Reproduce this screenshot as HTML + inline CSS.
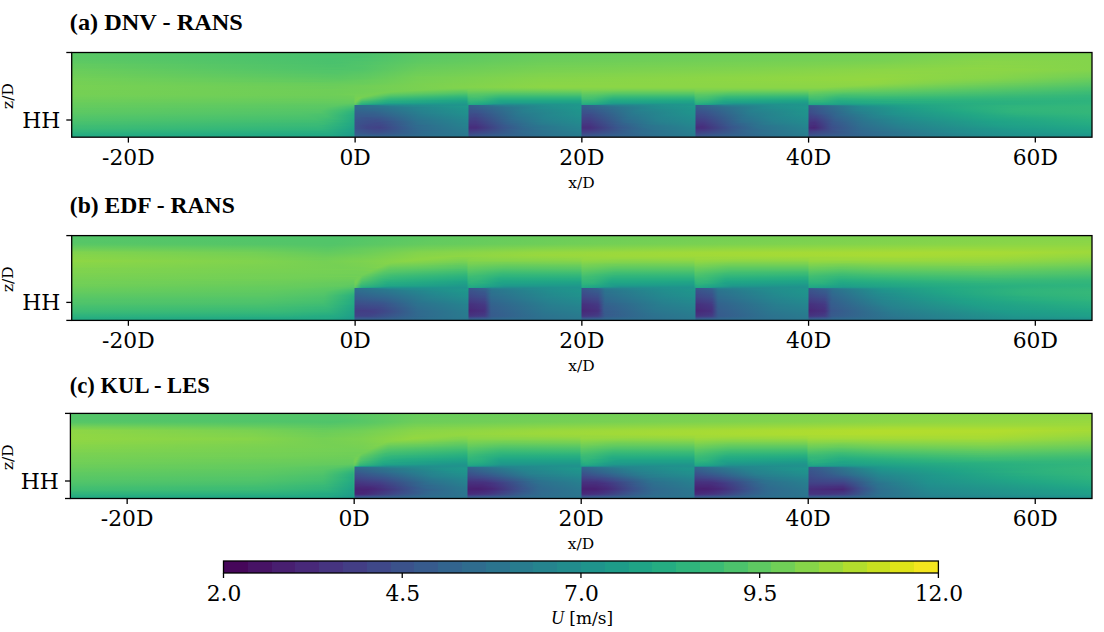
<!DOCTYPE html>
<html><head><meta charset="utf-8"><title>Wake flow fields</title>
<style>
html,body{margin:0;padding:0;background:#fff}
body{width:1104px;height:632px;position:relative;overflow:hidden}
.fld{position:absolute;overflow:hidden}
.fld i{position:absolute;left:0;width:100%;height:1px;display:block}
svg{position:absolute;left:0;top:0}
.cb{position:absolute}
</style></head><body>

<div class="fld" style="left:72px;top:52px;width:1020px;height:85px"><i style="top:0px;background:linear-gradient(90deg,#58c765,#48c16e 237px,#48c16e 284px,#5ac864 357px,#67cc5c 488px,#73d056 823px,#7ad151 928px,#7ad151 1019px)"></i><i style="top:1px;background:linear-gradient(90deg,#58c765,#4ac16d 220px,#48c16e 262px,#4cc26c 297px,#5ac864 354px,#67cc5c 480px,#73d056 812px,#7cd250 938px,#7cd250 1019px)"></i><i style="top:2px;background:linear-gradient(90deg,#5ac864,#48c16e 259px,#4cc26c 296px,#5ac864 350px,#67cc5c 473px,#75d054 829px,#7fd34e 909px,#7cd250 1019px)"></i><i style="top:3px;background:linear-gradient(90deg,#5ac864,#48c16e 247px,#4cc26c 295px,#5ac864 348px,#67cc5c 467px,#75d054 819px,#7fd34e 923px,#7fd34e 1019px)"></i><i style="top:4px;background:linear-gradient(90deg,#5ac864,#4ac16d 229px,#4ac16d 286px,#5cc863 353px,#69cd5b 481px,#77d153 833px,#81d34d 925px,#7fd34e 1019px)"></i><i style="top:5px;background:linear-gradient(90deg,#5ac864,#4ac16d 232px,#4ac16d 285px,#5cc863 351px,#69cd5b 475px,#77d153 825px,#81d34d 911px,#81d34d 1019px)"></i><i style="top:6px;background:linear-gradient(90deg,#5cc863,#48c16e 264px,#54c568 317px,#5cc863 350px,#69cd5b 469px,#77d153 817px,#84d44b 922px,#81d34d 1019px)"></i><i style="top:7px;background:linear-gradient(90deg,#5cc863,#48c16e 260px,#50c46a 303px,#5ec962 354px,#6ccd5a 483px,#77d153 810px,#84d44b 910px,#81d34d 1019px)"></i><i style="top:8px;background:linear-gradient(90deg,#5cc863,#4ac16d 257px,#4cc26c 289px,#5ec962 351px,#6ccd5a 475px,#77d153 804px,#86d549 913px,#84d44b 1019px)"></i><i style="top:9px;background:linear-gradient(90deg,#5ec962,#4ac16d 260px,#50c46a 300px,#5ec962 348px,#6ccd5a 465px,#7ad151 811px,#89d548 912px,#84d44b 1019px)"></i><i style="top:10px;background:linear-gradient(90deg,#5ec962,#4ac16d 269px,#60ca60 352px,#6ece58 472px,#7cd250 815px,#89d548 924px,#84d44b 1019px)"></i><i style="top:11px;background:linear-gradient(90deg,#60ca60,#4ac16d 261px,#50c46a 295px,#60ca60 346px,#70cf57 475px,#7cd250 797px,#89d548 919px,#84d44b 1019px)"></i><i style="top:12px;background:linear-gradient(90deg,#63cb5f,#4cc26c 257px,#50c46a 293px,#63cb5f 347px,#70cf57 473px,#7cd250 758px,#89d548 916px,#84d44b 1019px)"></i><i style="top:13px;background:linear-gradient(90deg,#63cb5f,#4cc26c 269px,#5ac864 318px,#65cb5e 351px,#73d056 478px,#7cd250 722px,#8bd646 918px,#84d44b 1019px)"></i><i style="top:14px;background:linear-gradient(90deg,#65cb5e,#4cc26c 263px,#52c569 294px,#65cb5e 346px,#73d056 465px,#7cd250 690px,#8bd646 927px,#84d44b 1019px)"></i><i style="top:15px;background:linear-gradient(90deg,#65cb5e,#50c46a 227px,#4ec36b 263px,#50c46a 287px,#67cc5c 348px,#75d054 474px,#81d34d 738px,#8bd646 900px,#84d44b 1019px)"></i><i style="top:16px;background:linear-gradient(90deg,#67cc5c,#50c46a 233px,#50c46a 286px,#67cc5c 344px,#77d153 477px,#7fd34e 675px,#89d548 826px,#8ed645 912px,#84d44b 1019px)"></i><i style="top:17px;background:linear-gradient(90deg,#69cd5b,#4ec36b 265px,#54c568 294px,#69cd5b 346px,#77d153 469px,#81d34d 685px,#8bd646 819px,#8bd646 948px,#84d44b 1019px)"></i><i style="top:18px;background:linear-gradient(90deg,#69cd5b,#52c569 234px,#52c569 285px,#6ccd5a 351px,#7ad151 477px,#81d34d 666px,#8bd646 806px,#8bd646 934px,#81d34d 1019px)"></i><i style="top:19px;background:linear-gradient(90deg,#6ccd5a,#52c569 256px,#56c667 291px,#6ccd5a 345px,#7ad151 465px,#84d44b 681px,#8ed645 835px,#89d548 945px,#7fd34e 1019px)"></i><i style="top:20px;background:linear-gradient(90deg,#6ccd5a,#52c569 258px,#58c765 293px,#6ece58 347px,#7cd250 474px,#84d44b 661px,#8ed645 819px,#89d548 934px,#7cd250 1019px)"></i><i style="top:21px;background:linear-gradient(90deg,#6ccd5a,#54c568 264px,#5ac864 294px,#6ece58 344px,#7fd34e 478px,#86d549 678px,#8ed645 799px,#89d548 926px,#7ad151 1019px)"></i><i style="top:22px;background:linear-gradient(90deg,#6ece58,#56c667 266px,#5ec962 301px,#70cf57 345px,#7fd34e 467px,#8bd646 734px,#90d743 814px,#89d548 920px,#77d153 1019px)"></i><i style="top:23px;background:linear-gradient(90deg,#6ece58,#5ac864 227px,#58c765 267px,#5ec962 297px,#70cf57 342px,#81d34d 469px,#8bd646 713px,#90d743 818px,#86d549 928px,#75d054 1019px)"></i><i style="top:24px;background:linear-gradient(90deg,#70cf57,#58c765 257px,#5ec962 293px,#73d056 345px,#81d34d 464px,#90d743 775px,#90d743 813px,#86d549 922px,#73d056 1019px)"></i><i style="top:25px;background:linear-gradient(90deg,#70cf57,#60ca60 195px,#5ac864 264px,#60ca60 295px,#75d054 346px,#84d44b 471px,#90d743 755px,#90d743 813px,#86d549 918px,#70cf57 1019px)"></i><i style="top:26px;background:linear-gradient(90deg,#73d056,#5cc863 267px,#60ca60 291px,#75d054 344px,#84d44b 462px,#90d743 751px,#93d741 810px,#84d44b 921px,#6ccd5a 1019px)"></i><i style="top:27px;background:linear-gradient(90deg,#73d056,#5ec962 267px,#63cb5f 292px,#75d054 343px,#86d549 470px,#90d743 762px,#93d741 803px,#81d34d 920px,#69cd5b 1019px)"></i><i style="top:28px;background:linear-gradient(90deg,#73d056,#60ca60 267px,#70cf57 326px,#77d153 350px,#86d549 467px,#93d741 797px,#7fd34e 916px,#6ccd5a 992px,#65cb5e 1019px)"></i><i style="top:29px;background:linear-gradient(90deg,#75d054,#60ca60 249px,#69cd5b 301px,#77d153 345px,#86d549 462px,#90d743 807px,#7ad151 921px,#63cb5f 1016px,#60ca60 1019px)"></i><i style="top:30px;background:linear-gradient(90deg,#75d054,#65cb5e 261px,#69cd5b 296px,#77d153 344px,#89d548 474px,#90d743 802px,#73d056 934px,#63cb5f 1000px,#5ec962 1019px)"></i><i style="top:31px;background:linear-gradient(90deg,#75d054,#67cc5c 259px,#69cd5b 290px,#7ad151 351px,#89d548 471px,#8ed645 807px,#7ad151 883px,#5ac864 1019px)"></i><i style="top:32px;background:linear-gradient(90deg,#75d054,#69cd5b 257px,#6ccd5a 291px,#7ad151 350px,#89d548 465px,#8ed645 794px,#7fd34e 846px,#73d056 898px,#58c765 1017px,#56c667 1019px)"></i><i style="top:33px;background:linear-gradient(90deg,#77d153,#69cd5b 259px,#7cd250 360px,#8bd646 475px,#8bd646 786px,#75d054 866px,#54c568 1019px)"></i><i style="top:34px;background:linear-gradient(90deg,#77d153,#6ccd5a 264px,#81d34d 391px,#8bd646 473px,#8bd646 763px,#6ece58 877px,#50c46a 1019px)"></i><i style="top:35px;background:linear-gradient(90deg,#77d153,#6ccd5a 260px,#7fd34e 383px,#89d548 470px,#89d548 751px,#81d34d 776px,#67cc5c 885px,#4cc26c 1019px)"></i><i style="top:36px;background:linear-gradient(90deg,#77d153,#6ccd5a 256px,#7cd250 369px,#7cd250 403px,#84d44b 483px,#84d44b 747px,#7ad151 775px,#63cb5f 880px,#48c16e 1019px)"></i><i style="top:37px;background:linear-gradient(90deg,#77d153,#6ece58 231px,#70cf57 293px,#7ad151 353px,#73d056 395px,#77d153 399px,#7ad151 456px,#7cd250 509px,#81d34d 511px,#7cd250 558px,#7cd250 622px,#81d34d 624px,#7cd250 684px,#7cd250 749px,#73d056 773px,#5cc863 888px,#46c06f 1019px)"></i><i style="top:38px;background:linear-gradient(90deg,#75d054,#6ece58 267px,#77d153 341px,#69cd5b 390px,#6ccd5a 395px,#73d056 396px,#70cf57 444px,#73d056 509px,#7ad151 510px,#73d056 560px,#75d054 622px,#7ad151 624px,#73d056 676px,#73d056 736px,#7ad151 737px,#6ccd5a 770px,#56c667 896px,#42be71 1019px)"></i><i style="top:39px;background:linear-gradient(90deg,#75d054,#6ece58 266px,#75d054 323px,#60ca60 389px,#63cb5f 395px,#6ccd5a 396px,#67cc5c 442px,#69cd5b 509px,#73d056 510px,#6ece58 531px,#69cd5b 556px,#6ccd5a 622px,#75d054 624px,#69cd5b 664px,#69cd5b 736px,#70cf57 737px,#67cc5c 760px,#63cb5f 784px,#52c569 892px,#3fbc73 1019px)"></i><i style="top:40px;background:linear-gradient(90deg,#75d054,#6ece58 264px,#75d054 312px,#6ece58 322px,#58c765 391px,#5ac864 395px,#65cb5e 396px,#63cb5f 413px,#5ec962 430px,#60ca60 509px,#6ccd5a 510px,#67cc5c 528px,#60ca60 547px,#60ca60 622px,#6ccd5a 623px,#69cd5b 637px,#60ca60 658px,#5ec962 736px,#69cd5b 737px,#60ca60 757px,#5ac864 777px,#56c667 824px,#3bbb75 1019px)"></i><i style="top:41px;background:linear-gradient(90deg,#75d054,#6ece58 262px,#75d054 306px,#67cc5c 320px,#50c46a 389px,#50c46a 395px,#5ec962 396px,#5ac864 415px,#54c568 435px,#56c667 509px,#65cb5e 510px,#63cb5f 523px,#58c765 541px,#58c765 622px,#65cb5e 623px,#63cb5f 636px,#56c667 657px,#54c568 736px,#63cb5f 737px,#52c569 773px,#52c569 811px,#3aba76 1019px)"></i><i style="top:42px;background:linear-gradient(90deg,#75d054,#6ece58 258px,#73d056 284px,#75d054 302px,#5ec962 319px,#46c06f 391px,#46c06f 395px,#56c667 396px,#56c667 410px,#4cc26c 428px,#4ec36b 509px,#5ec962 510px,#5ac864 525px,#4ec36b 543px,#4ec36b 622px,#5cc863 623px,#5cc863 635px,#4ec36b 655px,#4ac16d 736px,#5cc863 737px,#52c569 757px,#4ac16d 770px,#4cc26c 808px,#37b878 1019px)"></i><i style="top:43px;background:linear-gradient(90deg,#73d056,#6ece58 266px,#70cf57 282px,#75d054 284px,#75d054 298px,#56c667 318px,#3dbc74 387px,#3dbc74 395px,#50c46a 396px,#50c46a 410px,#42be71 428px,#44bf70 509px,#58c765 510px,#54c568 524px,#44bf70 542px,#44bf70 622px,#56c667 623px,#56c667 634px,#44bf70 654px,#40bd72 736px,#54c568 737px,#52c569 749px,#42be71 770px,#46c06f 805px,#3fbc73 898px,#34b679 1019px)"></i><i style="top:44px;background:linear-gradient(90deg,#73d056,#6ccd5a 255px,#6ece58 282px,#75d054 283px,#75d054 294px,#4cc26c 317px,#35b779 386px,#35b779 395px,#48c16e 396px,#4ec36b 402px,#3aba76 428px,#3aba76 509px,#52c569 510px,#4ec36b 523px,#3bbb75 542px,#3aba76 622px,#4ec36b 623px,#52c569 627px,#4ac16d 639px,#3aba76 655px,#37b878 736px,#4ec36b 737px,#4ac16d 751px,#3dbc74 765px,#3dbc74 825px,#32b67a 1019px)"></i><i style="top:45px;background:linear-gradient(90deg,#70cf57,#6ccd5a 273px,#6ece58 282px,#75d054 283px,#7ad151 288px,#6ece58 293px,#42be71 317px,#2eb37c 387px,#2eb37c 395px,#40bd72 396px,#46c06f 398px,#46c06f 407px,#32b67a 428px,#32b67a 509px,#4cc26c 510px,#48c16e 523px,#34b679 541px,#32b67a 622px,#46c06f 623px,#4cc26c 625px,#48c16e 636px,#34b679 652px,#2fb47c 736px,#48c16e 737px,#46c06f 749px,#37b878 765px,#38b977 788px,#34b679 967px,#31b57b 1019px)"></i><i style="top:46px;background:linear-gradient(90deg,#70cf57,#69cd5b 236px,#6ccd5a 282px,#75d054 283px,#7ad151 287px,#67cc5c 291px,#52c569 303px,#38b977 318px,#28ae80 390px,#28ae80 395px,#3aba76 396px,#40bd72 398px,#3fbc73 409px,#2cb17e 426px,#2cb17e 509px,#46c06f 510px,#46c06f 519px,#2db27d 541px,#2cb17e 622px,#3fbc73 623px,#46c06f 624px,#42be71 636px,#2db27d 653px,#29af7f 736px,#42be71 737px,#42be71 747px,#2fb47c 768px,#34b679 808px,#2fb47c 1019px)"></i><i style="top:47px;background:linear-gradient(90deg,#6ece58,#67cc5c 250px,#69cd5b 282px,#75d054 283px,#7ad151 286px,#5ec962 290px,#44bf70 305px,#31b57b 317px,#24aa83 389px,#24aa83 395px,#35b779 396px,#3bbb75 398px,#3aba76 409px,#26ad81 427px,#26ad81 509px,#40bd72 510px,#3fbc73 521px,#27ad81 541px,#26ad81 622px,#3aba76 623px,#40bd72 625px,#3dbc74 635px,#26ad81 655px,#24aa83 736px,#3bbb75 737px,#3dbc74 747px,#2cb17e 766px,#2fb47c 953px,#2fb47c 1019px)"></i><i style="top:48px;background:linear-gradient(90deg,#6ccd5a,#67cc5c 282px,#75d054 283px,#77d153 285px,#6ccd5a 287px,#56c667 289px,#2db27d 314px,#22a785 369px,#21a585 395px,#2fb47c 396px,#37b878 397px,#34b679 410px,#22a884 428px,#22a884 509px,#3aba76 510px,#37b878 523px,#24aa83 540px,#22a884 622px,#34b679 623px,#3bbb75 624px,#37b878 636px,#25ab82 651px,#21a685 706px,#21a585 736px,#37b878 737px,#34b679 752px,#27ad81 766px,#2cb17e 826px,#2eb37c 1019px)"></i><i style="top:49px;background:linear-gradient(90deg,#6ccd5a,#65cb5e 254px,#65cb5e 282px,#75d054 283px,#70cf57 285px,#44bf70 290px,#25ac82 318px,#1fa187 395px,#2cb17e 396px,#32b67a 398px,#2cb17e 412px,#20a486 429px,#20a486 509px,#35b779 510px,#34b679 521px,#21a685 540px,#20a486 622px,#2fb47c 623px,#37b878 625px,#2fb47c 637px,#21a585 653px,#1fa187 736px,#31b57b 737px,#31b57b 750px,#24aa83 766px,#29af7f 873px,#2eb37c 1019px)"></i><i style="top:50px;background:linear-gradient(90deg,#69cd5b,#63cb5f 280px,#63cb5f 282px,#73d056 283px,#5cc863 286px,#3dbc74 289px,#24aa83 313px,#1f9e89 385px,#1f9e89 395px,#28ae80 396px,#2eb37c 399px,#26ad81 413px,#1fa088 430px,#1fa188 509px,#31b57b 510px,#2cb17e 523px,#1fa287 539px,#1fa188 622px,#2ab07f 623px,#31b57b 624px,#2cb17e 636px,#1fa187 652px,#1e9d89 736px,#2db27d 737px,#2ab07f 751px,#22a785 770px,#26ad81 811px,#2ab07f 911px,#2fb47c 1019px)"></i><i style="top:51px;background:linear-gradient(90deg,#67cc5c,#60ca60 275px,#5ec962 282px,#6ccd5a 283px,#32b67a 289px,#1fa188 317px,#1e9b8a 364px,#1f9a8a 395px,#23a983 396px,#29af7f 399px,#22a785 414px,#1f978b 435px,#1e9c89 509px,#2cb17e 510px,#25ab82 526px,#1f9a8a 542px,#1e9c89 622px,#25ab82 623px,#2cb17e 624px,#22a785 642px,#1f978b 662px,#1f998a 736px,#28ae80 737px,#24aa83 755px,#20a386 771px,#22a785 803px,#2eb37c 989px,#2fb47c 1019px)"></i><i style="top:52px;background:linear-gradient(90deg,#67cc5c,#5ec962 268px,#56c667 282px,#63cb5f 283px,#2fb47c 288px,#26ad81 291px,#20a386 300px,#20938c 314px,#1f968b 395px,#24aa83 397px,#20a486 410px,#218f8d 422px,#228c8d 437px,#1f988b 509px,#25ac82 510px,#21a685 523px,#21908d 535px,#228c8d 551px,#1f988b 622px,#25ac82 624px,#20a486 637px,#218f8d 649px,#228c8d 667px,#1f968b 736px,#23a983 737px,#21a585 753px,#1e9c89 774px,#28ae80 899px,#2fb47c 986px,#31b57b 1019px)"></i><i style="top:53px;background:linear-gradient(90deg,#65cb5e,#5cc863 264px,#50c46a 282px,#2f6c8e 283px,#2b748e 299px,#25858e 316px,#1f948c 385px,#1f968b 395px,#1f9e89 396px,#365d8d 397px,#30698e 411px,#297b8e 425px,#21918c 477px,#1f978b 509px,#365d8d 510px,#31688e 524px,#297a8e 536px,#21918c 590px,#1f978b 622px,#1f9e89 623px,#365d8d 624px,#31688e 637px,#287c8e 652px,#21918c 706px,#1f968b 736px,#34608d 737px,#20928c 787px,#1fa187 830px,#2eb37c 934px,#32b67a 1019px)"></i><i style="top:54px;background:linear-gradient(90deg,#65cb5e,#5ac864 260px,#48c16e 282px,#2f6b8e 283px,#2a768e 311px,#25858e 334px,#1f9a8a 396px,#365c8d 397px,#287c8e 437px,#21918c 482px,#1f978b 509px,#365c8d 510px,#297a8e 548px,#21918c 595px,#1f9a8a 623px,#365c8d 624px,#29798e 660px,#21908d 706px,#1f978b 736px,#39568c 737px,#218e8d 793px,#1fa088 832px,#2fb47c 936px,#34b679 1019px)"></i><i style="top:55px;background:linear-gradient(90deg,#63cb5f,#5ac864 253px,#4cc26c 272px,#42be71 282px,#30698e 283px,#2a778e 317px,#20928c 377px,#1f988b 396px,#375a8c 397px,#228b8d 468px,#1f988b 509px,#375a8c 510px,#228b8d 581px,#1f988b 623px,#375a8c 624px,#228b8d 694px,#1f988b 736px,#3a548c 737px,#33628d 751px,#23888e 789px,#1f9f88 835px,#2ab07f 909px,#31b57b 952px,#34b679 1019px)"></i><i style="top:56px;background:linear-gradient(90deg,#60ca60,#58c765 252px,#48c16e 271px,#3bbb75 282px,#31688e 283px,#2e6e8e 306px,#24878e 352px,#1f968b 396px,#38588c 397px,#23898e 465px,#1f978b 509px,#38588c 510px,#2d708e 542px,#228c8d 586px,#1f978b 623px,#38588c 624px,#23898e 692px,#1f978b 736px,#3b528b 737px,#25848e 785px,#1e9d89 835px,#2ab07f 910px,#31b57b 943px,#34b679 1019px)"></i><i style="top:57px;background:linear-gradient(90deg,#60ca60,#56c667 252px,#44bf70 270px,#37b878 282px,#31668e 283px,#2e6d8e 308px,#25858e 351px,#1f958b 396px,#39568c 397px,#365d8d 409px,#26828e 455px,#1f968b 509px,#39568c 510px,#375b8d 520px,#26828e 569px,#1f968b 622px,#1f968b 623px,#39568c 624px,#365d8d 636px,#26828e 682px,#1f968b 736px,#3b518b 737px,#355f8d 751px,#25838e 786px,#1f998a 828px,#24aa83 885px,#31b57b 942px,#34b679 1019px)"></i><i style="top:58px;background:linear-gradient(90deg,#5ec962,#56c667 248px,#3fbc73 271px,#32b67a 282px,#32648e 283px,#2f6b8e 308px,#26828e 348px,#20938c 395px,#20938c 396px,#3a548c 397px,#39568c 405px,#277f8e 451px,#1f948c 506px,#1f958b 509px,#3a548c 510px,#39568c 518px,#26828e 569px,#1f958b 623px,#3a548c 624px,#38598c 634px,#26828e 682px,#1f958b 736px,#3c4f8a 737px,#375b8d 749px,#26828e 785px,#1f998a 832px,#24aa83 890px,#31b57b 948px,#34b679 1019px)"></i><i style="top:59px;background:linear-gradient(90deg,#5ec962,#54c568 248px,#3dbc74 270px,#2db27d 282px,#33638d 283px,#32658e 302px,#26828e 351px,#20928c 396px,#3b528b 397px,#39568c 407px,#27808e 454px,#1f948c 509px,#3b528b 510px,#39568c 520px,#287d8e 563px,#20928c 614px,#1f948c 623px,#3b528b 624px,#39568c 634px,#277f8e 679px,#1f948c 736px,#3d4d8a 737px,#34608d 754px,#26828e 789px,#1f968b 827px,#23a983 891px,#2fb47c 941px,#34b679 1019px)"></i><i style="top:60px;background:linear-gradient(90deg,#5cc863,#52c569 249px,#3aba76 270px,#2cb17e 282px,#34618d 283px,#33638d 303px,#26828e 353px,#20928c 396px,#3c508b 397px,#3a548c 407px,#287d8e 451px,#20928c 506px,#20938c 509px,#3c508b 510px,#3a538b 520px,#287c8e 563px,#20928c 616px,#20938c 623px,#3c508b 624px,#3a548c 634px,#277e8e 679px,#20938c 736px,#3e4c8a 737px,#38588c 749px,#29798e 779px,#20938c 822px,#21a685 886px,#2eb37c 941px,#34b679 1019px)"></i><i style="top:61px;background:linear-gradient(90deg,#5ac864,#52c569 227px,#4ec36b 251px,#37b878 271px,#29af7f 282px,#355f8d 283px,#34618d 304px,#27808e 351px,#21908d 396px,#3c4f8a 397px,#3d4e8a 404px,#297a8e 448px,#20928c 505px,#20928c 509px,#3c4f8a 510px,#3c508b 519px,#297b8e 563px,#20928c 618px,#20928c 623px,#3d4e8a 624px,#3b528b 634px,#297a8e 675px,#21918c 727px,#20928c 736px,#3e4989 737px,#365d8d 754px,#26818e 791px,#20928c 823px,#21a685 891px,#2db27d 945px,#32b67a 1019px)"></i><i style="top:62px;background:linear-gradient(90deg,#58c765,#50c46a 230px,#4ac16d 254px,#31b57b 274px,#28ae80 282px,#355e8d 283px,#355e8d 303px,#277e8e 351px,#218f8d 396px,#3d4d8a 397px,#3e4a89 403px,#2a768e 444px,#238a8d 484px,#20928c 509px,#3d4d8a 510px,#3e4a89 516px,#2a778e 559px,#238a8d 597px,#20928c 623px,#3e4c8a 624px,#3d4d8a 631px,#297b8e 678px,#21918c 732px,#20928c 736px,#3f4788 737px,#3a538b 749px,#2e6d8e 769px,#218f8d 816px,#21a685 896px,#2cb17e 947px,#31b57b 1019px)"></i><i style="top:63px;background:linear-gradient(90deg,#56c667,#4ec36b 233px,#48c16e 254px,#29af7f 279px,#27ad81 282px,#365d8d 283px,#375b8d 295px,#34618d 311px,#287c8e 350px,#218e8d 396px,#3e4a89 397px,#3e4a89 404px,#2a768e 446px,#24868e 476px,#21918c 509px,#3e4a89 510px,#3e4a89 518px,#2b758e 558px,#24878e 592px,#21918c 623px,#3e4989 624px,#3e4c8a 632px,#29798e 677px,#238a8d 713px,#21918c 736px,#404588 737px,#3e4a89 745px,#31678e 765px,#26828e 799px,#20928c 831px,#21a685 901px,#29af7f 948px,#2fb47c 1019px)"></i><i style="top:64px;background:linear-gradient(90deg,#54c568,#4cc26c 236px,#46c06f 255px,#26ad81 282px,#375b8d 283px,#375b8d 307px,#297a8e 349px,#228c8d 396px,#3f4889 397px,#3f4889 404px,#2b748e 445px,#25848e 473px,#21908d 509px,#3f4889 510px,#3f4889 518px,#2c738e 557px,#25848e 586px,#21908d 623px,#3f4788 624px,#3e4a89 633px,#2b748e 672px,#25838e 697px,#21908d 736px,#414287 737px,#404688 744px,#32648e 764px,#27808e 797px,#21918c 832px,#21a685 906px,#27ad81 942px,#2eb37c 1019px)"></i><i style="top:65px;background:linear-gradient(90deg,#52c569,#4ac16d 239px,#44bf70 255px,#25ac82 282px,#375a8c 283px,#39558c 295px,#375a8c 310px,#2a778e 346px,#228b8d 396px,#404688 397px,#414487 403px,#2c718e 443px,#25838e 473px,#218f8d 509px,#404688 510px,#414487 516px,#2c728e 558px,#26828e 584px,#218f8d 623px,#404588 624px,#3e4989 634px,#2c738e 672px,#26828e 697px,#218f8d 736px,#424086 737px,#414487 744px,#33638d 764px,#26828e 803px,#20928c 843px,#22a884 918px,#2db27d 1019px)"></i><i style="top:66px;background:linear-gradient(90deg,#50c46a,#48c16e 242px,#3dbc74 261px,#25ab82 282px,#38598c 283px,#3a538b 295px,#39568c 309px,#2b758e 345px,#238a8d 396px,#414487 397px,#424186 403px,#2e6e8e 440px,#26828e 472px,#218e8d 509px,#414487 510px,#414287 517px,#2d708e 555px,#26828e 586px,#218e8d 623px,#414287 624px,#404588 632px,#2c718e 671px,#26828e 699px,#218e8d 736px,#433e85 737px,#424086 744px,#355f8d 762px,#287c8e 796px,#218f8d 836px,#21a685 917px,#2cb17e 1019px)"></i><i style="top:67px;background:linear-gradient(90deg,#4ec36b,#46c06f 244px,#37b878 265px,#24aa83 282px,#39568c 283px,#3b518b 305px,#2c738e 344px,#23888e 396px,#424186 397px,#424186 404px,#2d708e 444px,#26828e 475px,#228d8d 509px,#424186 510px,#424186 518px,#2e6e8e 555px,#26828e 587px,#228d8d 623px,#424086 624px,#414287 632px,#2e6f8e 669px,#26828e 701px,#228d8d 736px,#443b84 737px,#443b84 743px,#355e8d 763px,#2b758e 788px,#228c8d 832px,#20a486 915px,#28ae80 1000px,#2ab07f 1019px)"></i><i style="top:68px;background:linear-gradient(90deg,#4ec36b,#42be71 250px,#2cb17e 272px,#23a983 282px,#39558c 283px,#3d4e8a 304px,#365d8d 323px,#2c718e 344px,#24878e 396px,#433e85 397px,#433d84 403px,#31688e 437px,#26818e 473px,#228c8d 509px,#423f85 510px,#433d84 516px,#31688e 551px,#27808e 584px,#228c8d 623px,#433e85 624px,#424186 633px,#2e6e8e 670px,#26818e 700px,#228c8d 736px,#453882 737px,#443a83 744px,#365d8d 763px,#2a768e 792px,#228c8d 836px,#20a486 921px,#29af7f 1019px)"></i><i style="top:69px;background:linear-gradient(90deg,#4ac16d,#42be71 239px,#3aba76 259px,#23a983 282px,#3a548c 283px,#3d4d8a 299px,#3b518b 314px,#2d718e 346px,#24868e 396px,#433d84 397px,#443a83 403px,#33628d 433px,#287d8e 466px,#228b8d 509px,#433d84 510px,#443b84 517px,#30698e 553px,#27808e 586px,#228b8d 623px,#443b84 624px,#433e85 632px,#2e6d8e 670px,#26818e 703px,#228b8d 736px,#453781 737px,#453581 743px,#375a8c 762px,#2c738e 790px,#24868e 824px,#1fa287 920px,#28ae80 1019px)"></i><i style="top:70px;background:linear-gradient(90deg,#48c16e,#3fbc73 249px,#2cb17e 270px,#22a884 282px,#3a538b 283px,#3e4a89 307px,#2d718e 347px,#25848e 394px,#25858e 396px,#443a83 397px,#443a83 404px,#31678e 439px,#277e8e 472px,#238a8d 509px,#443a83 510px,#443b84 518px,#306a8e 555px,#277f8e 588px,#238a8d 623px,#443a83 624px,#443b84 632px,#306a8e 668px,#27808e 704px,#238a8d 736px,#463480 737px,#46307e 742px,#39568c 760px,#2c728e 790px,#24868e 828px,#1fa287 925px,#27ad81 1019px)"></i><i style="top:71px;background:linear-gradient(90deg,#46c06f,#3bbb75 252px,#25ab82 276px,#22a785 282px,#3a538b 283px,#3f4889 305px,#38588c 323px,#2d708e 347px,#25838e 395px,#25838e 396px,#453882 397px,#453882 404px,#34608d 434px,#297b8e 468px,#23898e 509px,#453882 510px,#453781 517px,#365d8d 545px,#297a8e 578px,#23898e 623px,#453882 624px,#453882 631px,#34608d 661px,#297b8e 694px,#23898e 736px,#46327e 737px,#46307e 743px,#39568c 761px,#2d718e 790px,#25838e 824px,#1fa188 922px,#25ac82 1019px)"></i><i style="top:72px;background:linear-gradient(90deg,#44bf70,#3aba76 251px,#28ae80 271px,#21a685 282px,#3a538b 283px,#3f4889 299px,#3e4a89 311px,#2e6e8e 345px,#26828e 395px,#26828e 396px,#453581 397px,#453581 404px,#355f8d 435px,#29798e 467px,#24878e 509px,#453581 510px,#453581 517px,#34608d 549px,#297a8e 583px,#23888e 623px,#453581 624px,#453581 631px,#355f8d 662px,#29798e 693px,#24878e 736px,#46307e 737px,#46307e 744px,#39558c 761px,#2d718e 791px,#25838e 828px,#1fa188 928px,#25ab82 1019px)"></i><i style="top:73px;background:linear-gradient(90deg,#40bd72,#3aba76 244px,#2cb17e 267px,#21a585 282px,#3b528b 283px,#3e4989 293px,#3f4788 309px,#32658e 336px,#26818e 391px,#26828e 396px,#46337f 397px,#46337f 404px,#39568c 430px,#2e6e8e 452px,#26828e 494px,#24868e 509px,#46337f 510px,#46337f 517px,#38588c 544px,#2d718e 570px,#25858e 618px,#24868e 623px,#46337f 624px,#46337f 631px,#38588c 657px,#2d718e 683px,#24868e 734px,#24868e 736px,#472e7c 737px,#472c7a 743px,#3b518b 759px,#2e6f8e 790px,#26828e 829px,#1f9f88 925px,#23a983 1019px)"></i><i style="top:74px;background:linear-gradient(90deg,#3fbc73,#37b878 250px,#24aa83 274px,#20a486 282px,#3b528b 283px,#3f4788 295px,#414487 307px,#39568c 325px,#2f6b8e 344px,#26818e 396px,#46307e 397px,#46307e 404px,#38588c 432px,#2c718e 459px,#25858e 509px,#46307e 510px,#46307e 517px,#38588c 545px,#2d718e 572px,#25858e 622px,#25858e 623px,#46307e 624px,#472f7d 630px,#39558c 657px,#2d718e 685px,#25858e 735px,#25858e 736px,#472d7b 737px,#472a7a 743px,#3b518b 760px,#2e6e8e 790px,#26828e 833px,#1f9e89 929px,#22a884 1019px)"></i><i style="top:75px;background:linear-gradient(90deg,#3dbc74,#35b779 249px,#25ab82 272px,#20a386 282px,#3b528b 283px,#404688 295px,#414287 308px,#39568c 326px,#306a8e 344px,#27808e 396px,#472e7c 397px,#472e7c 404px,#3b528b 429px,#2f6b8e 452px,#26828e 501px,#25848e 509px,#472e7c 510px,#472f7d 518px,#39558c 545px,#2d718e 573px,#25848e 623px,#472e7c 624px,#472f7d 631px,#39568c 659px,#2d708e 685px,#25848e 735px,#25848e 736px,#472a7a 737px,#482576 742px,#3d4d8a 758px,#2f6c8e 789px,#26828e 836px,#1f9e89 938px,#21a685 1019px)"></i><i style="top:76px;background:linear-gradient(90deg,#3bbb75,#32b67a 252px,#1fa287 282px,#3b528b 283px,#3f4788 295px,#414487 308px,#39568c 326px,#2f6b8e 347px,#277f8e 396px,#46307e 397px,#46307e 404px,#38588c 433px,#2c738e 465px,#25838e 509px,#46307e 510px,#46307e 517px,#38598c 547px,#2c738e 579px,#25838e 623px,#46307e 624px,#46307e 631px,#38588c 660px,#2d718e 688px,#25838e 736px,#472d7b 737px,#482979 742px,#3c508b 760px,#2f6b8e 789px,#26828e 840px,#1e9c89 938px,#21a585 1019px)"></i><i style="top:77px;background:linear-gradient(90deg,#38b977,#31b57b 249px,#21a685 275px,#1fa187 282px,#3a548c 283px,#3f4788 301px,#3e4989 312px,#306a8e 346px,#277e8e 396px,#463480 397px,#453781 405px,#355f8d 438px,#2b758e 471px,#26828e 509px,#463480 510px,#463480 517px,#365d8d 550px,#2b758e 584px,#26828e 623px,#463480 624px,#453781 632px,#355f8d 665px,#2b758e 698px,#26828e 736px,#46337f 737px,#46327e 743px,#3b528b 761px,#2f6b8e 790px,#25848e 852px,#1e9b8a 941px,#20a386 1019px)"></i><i style="top:78px;background:linear-gradient(90deg,#34b679,#2db27d 252px,#21a585 275px,#1fa188 282px,#39558c 283px,#3e4989 307px,#32648e 337px,#287d8e 396px,#443983 397px,#443b84 405px,#31678e 447px,#27808e 500px,#26828e 509px,#443983 510px,#443b84 519px,#30698e 563px,#26828e 623px,#443983 624px,#443b84 632px,#31688e 675px,#26828e 735px,#26828e 736px,#453882 737px,#443a83 744px,#38588c 765px,#2d718e 803px,#20928c 906px,#1f9e89 981px,#1fa187 1019px)"></i><i style="top:79px;background:linear-gradient(90deg,#31b57b,#29af7f 256px,#1fa088 282px,#38588c 283px,#3d4e8a 298px,#3e4c8a 308px,#2f6b8e 348px,#287c8e 396px,#433d84 397px,#414487 409px,#306a8e 451px,#26818e 509px,#433d84 510px,#414287 521px,#30698e 563px,#26818e 623px,#433d84 624px,#414487 636px,#306a8e 678px,#26818e 736px,#433d84 737px,#31678e 785px,#228b8d 881px,#1f9a8a 959px,#1fa188 1019px)"></i><i style="top:80px;background:linear-gradient(90deg,#2db27d,#28ae80 253px,#1fa287 275px,#1f9e89 282px,#38598c 283px,#3d4e8a 305px,#355e8d 329px,#2e6d8e 354px,#297b8e 396px,#424186 397px,#3e4989 411px,#2f6b8e 453px,#27808e 509px,#424186 510px,#3f4788 522px,#2f6c8e 568px,#27808e 623px,#424186 624px,#3e4a89 639px,#2f6c8e 681px,#27808e 736px,#424186 737px,#31688e 789px,#228d8d 894px,#1f9a8a 974px,#1f9f88 1019px)"></i><i style="top:81px;background:linear-gradient(90deg,#2ab07f,#25ab82 260px,#1e9d89 282px,#365c8d 283px,#3a538b 301px,#38598c 319px,#2e6d8e 353px,#297a8e 396px,#3f4788 397px,#3c4f8a 413px,#2d708e 462px,#277f8e 509px,#3f4788 510px,#3c508b 528px,#2e6f8e 574px,#277f8e 623px,#3f4788 624px,#3d4e8a 638px,#2d708e 689px,#277f8e 736px,#3f4788 737px,#306a8e 794px,#218f8d 908px,#1e9d89 1019px)"></i><i style="top:82px;background:linear-gradient(90deg,#28ae80,#24aa83 257px,#1e9c89 282px,#34608d 283px,#38588c 306px,#2d718e 362px,#29798e 396px,#3d4d8a 397px,#34608d 433px,#2b748e 478px,#277e8e 509px,#3d4d8a 510px,#365c8d 540px,#2c738e 588px,#277e8e 623px,#3d4d8a 624px,#34608d 660px,#2a768e 710px,#277e8e 736px,#3d4d8a 737px,#2d718e 812px,#20928c 929px,#1f998a 1019px)"></i><i style="top:83px;background:linear-gradient(90deg,#25ac82,#22a884 258px,#1e9b8a 282px,#33638d 283px,#355f8d 311px,#2c738e 369px,#29798e 396px,#3b528b 397px,#2b758e 483px,#287c8e 509px,#3b528b 510px,#2b758e 597px,#287d8e 623px,#3b528b 624px,#2b758e 710px,#287c8e 736px,#3a538b 737px,#287d8e 851px,#20928c 945px,#1f968b 1019px)"></i><i style="top:84px;background:linear-gradient(90deg,#24aa83,#21a685 258px,#1f998a 282px,#31678e 283px,#32658e 314px,#2a788e 394px,#2a788e 396px,#38598c 397px,#31688e 446px,#297b8e 509px,#38598c 510px,#31668e 554px,#297b8e 623px,#38598c 624px,#31678e 670px,#297b8e 736px,#38598c 737px,#24878e 895px,#21908d 952px,#20928c 1019px)"></i></div>
<div class="fld" style="left:72px;top:236px;width:1020px;height:84px"><i style="top:0px;background:linear-gradient(90deg,#54c568,#52c569 200px,#50c46a 264px,#60ca60 370px,#6ccd5a 515px,#81d34d 925px,#86d549 1019px)"></i><i style="top:1px;background:linear-gradient(90deg,#54c568,#52c569 205px,#50c46a 265px,#60ca60 363px,#6ccd5a 500px,#84d44b 953px,#86d549 1019px)"></i><i style="top:2px;background:linear-gradient(90deg,#54c568,#52c569 210px,#50c46a 262px,#60ca60 360px,#6ccd5a 484px,#84d44b 933px,#86d549 1019px)"></i><i style="top:3px;background:linear-gradient(90deg,#56c667,#52c569 214px,#50c46a 260px,#60ca60 356px,#6ccd5a 477px,#86d549 947px,#89d548 1019px)"></i><i style="top:4px;background:linear-gradient(90deg,#56c667,#52c569 219px,#52c569 268px,#63cb5f 368px,#6ece58 500px,#86d549 925px,#89d548 1019px)"></i><i style="top:5px;background:linear-gradient(90deg,#56c667,#52c569 224px,#52c569 266px,#63cb5f 361px,#70cf57 517px,#81d34d 815px,#89d548 959px,#8bd646 1019px)"></i><i style="top:6px;background:linear-gradient(90deg,#56c667,#54c568 197px,#52c569 261px,#63cb5f 355px,#70cf57 507px,#7cd250 700px,#89d548 940px,#8bd646 1019px)"></i><i style="top:7px;background:linear-gradient(90deg,#58c765,#54c568 202px,#52c569 262px,#63cb5f 351px,#70cf57 498px,#7cd250 681px,#8bd646 957px,#8ed645 1019px)"></i><i style="top:8px;background:linear-gradient(90deg,#5ac864,#54c568 221px,#54c568 266px,#65cb5e 352px,#75d054 526px,#81d34d 726px,#8bd646 922px,#8ed645 1019px)"></i><i style="top:9px;background:linear-gradient(90deg,#5ec962,#58c765 204px,#54c568 257px,#69cd5b 356px,#77d153 499px,#86d549 730px,#90d743 964px,#90d743 1019px)"></i><i style="top:10px;background:linear-gradient(90deg,#63cb5f,#5cc863 192px,#56c667 256px,#6ccd5a 350px,#7ad151 479px,#86d549 659px,#90d743 863px,#93d741 1019px)"></i><i style="top:11px;background:linear-gradient(90deg,#67cc5c,#60ca60 183px,#58c765 256px,#70cf57 354px,#7fd34e 482px,#8bd646 667px,#95d840 887px,#95d840 1019px)"></i><i style="top:12px;background:linear-gradient(90deg,#6ccd5a,#63cb5f 191px,#5ac864 256px,#70cf57 337px,#81d34d 460px,#90d743 664px,#98d83e 873px,#98d83e 988px,#95d840 1019px)"></i><i style="top:13px;background:linear-gradient(90deg,#70cf57,#67cc5c 185px,#5cc863 256px,#70cf57 327px,#77d153 355px,#86d549 464px,#95d840 672px,#9dd93b 898px,#98d83e 1019px)"></i><i style="top:14px;background:linear-gradient(90deg,#75d054,#6ccd5a 179px,#5ec962 255px,#70cf57 318px,#7ad151 346px,#8bd646 467px,#98d83e 651px,#a0da39 851px,#9dd93b 990px,#9bd93c 1019px)"></i><i style="top:15px;background:linear-gradient(90deg,#7cd250,#6ece58 185px,#60ca60 255px,#6ece58 305px,#7fd34e 350px,#90d743 471px,#9dd93b 651px,#a5db36 900px,#9dd93b 1019px)"></i><i style="top:16px;background:linear-gradient(90deg,#81d34d,#73d056 181px,#63cb5f 254px,#69cd5b 287px,#81d34d 345px,#95d840 470px,#a2da37 661px,#a8db34 843px,#a5db36 954px,#9dd93b 1019px)"></i><i style="top:17px;background:linear-gradient(90deg,#81d34d,#75d054 177px,#65cb5e 255px,#6ccd5a 288px,#84d44b 348px,#95d840 465px,#a2da37 647px,#a8db34 839px,#a5db36 939px,#9bd93c 1019px)"></i><i style="top:18px;background:linear-gradient(90deg,#84d44b,#75d054 185px,#67cc5c 255px,#70cf57 295px,#84d44b 344px,#98d83e 475px,#a2da37 662px,#a8db34 816px,#a5db36 925px,#98d83e 1019px)"></i><i style="top:19px;background:linear-gradient(90deg,#86d549,#77d153 181px,#69cd5b 256px,#75d054 302px,#86d549 345px,#98d83e 467px,#a2da37 651px,#a8db34 819px,#a2da37 934px,#95d840 1019px)"></i><i style="top:20px;background:linear-gradient(90deg,#86d549,#7ad151 176px,#6ccd5a 252px,#73d056 290px,#86d549 342px,#8ed645 378px,#8ed645 399px,#9bd93c 542px,#a5db36 820px,#a0da39 933px,#93d741 1019px)"></i><i style="top:21px;background:linear-gradient(90deg,#89d548,#7ad151 184px,#6ece58 252px,#77d153 298px,#89d548 346px,#8ed645 367px,#86d549 386px,#8ed645 422px,#95d840 509px,#98d83e 530px,#98d83e 550px,#9dd93b 732px,#a2da37 832px,#9dd93b 930px,#90d743 1019px)"></i><i style="top:22px;background:linear-gradient(90deg,#89d548,#7cd250 180px,#70cf57 253px,#7ad151 299px,#8bd646 347px,#8bd646 365px,#84d44b 393px,#89d548 400px,#90d743 509px,#95d840 511px,#95d840 622px,#9bd93c 624px,#98d83e 736px,#9dd93b 738px,#9bd93c 927px,#93d741 975px,#8bd646 1019px)"></i><i style="top:23px;background:linear-gradient(90deg,#8bd646,#7cd250 189px,#70cf57 250px,#7cd250 300px,#8bd646 343px,#8bd646 355px,#81d34d 387px,#81d34d 395px,#86d549 397px,#89d548 452px,#8ed645 509px,#93d741 511px,#8ed645 563px,#93d741 622px,#98d83e 624px,#93d741 671px,#95d840 736px,#9bd93c 738px,#9bd93c 809px,#98d83e 924px,#89d548 1019px)"></i><i style="top:24px;background:linear-gradient(90deg,#8ed645,#7fd34e 184px,#73d056 251px,#7cd250 294px,#8bd646 339px,#7cd250 391px,#7fd34e 395px,#86d549 398px,#86d549 485px,#89d548 509px,#90d743 510px,#89d548 547px,#8ed645 622px,#93d741 624px,#8ed645 681px,#90d743 736px,#95d840 738px,#95d840 792px,#98d83e 837px,#93d741 936px,#84d44b 1019px)"></i><i style="top:25px;background:linear-gradient(90deg,#8ed645,#7fd34e 188px,#75d054 254px,#7fd34e 299px,#89d548 333px,#77d153 390px,#7ad151 395px,#81d34d 396px,#81d34d 487px,#84d44b 509px,#8bd646 510px,#84d44b 555px,#86d549 622px,#90d743 623px,#89d548 663px,#89d548 736px,#93d741 737px,#8ed645 773px,#93d741 818px,#90d743 927px,#81d34d 1019px)"></i><i style="top:26px;background:linear-gradient(90deg,#8bd646,#7fd34e 184px,#75d054 254px,#7cd250 294px,#84d44b 319px,#81d34d 345px,#73d056 389px,#73d056 395px,#7cd250 396px,#77d153 434px,#7cd250 484px,#7cd250 509px,#86d549 510px,#7fd34e 550px,#81d34d 622px,#8bd646 623px,#81d34d 660px,#81d34d 736px,#8bd646 737px,#8bd646 845px,#8ed645 911px,#7cd250 1019px)"></i><i style="top:27px;background:linear-gradient(90deg,#89d548,#7fd34e 180px,#75d054 254px,#7ad151 289px,#84d44b 315px,#7fd34e 320px,#7ad151 350px,#6ccd5a 387px,#6ece58 395px,#7ad151 396px,#73d056 434px,#77d153 509px,#81d34d 510px,#7ad151 536px,#77d153 572px,#7ad151 622px,#86d549 623px,#7ad151 660px,#7cd250 736px,#86d549 737px,#81d34d 775px,#86d549 810px,#86d549 926px,#77d153 1019px)"></i><i style="top:28px;background:linear-gradient(90deg,#89d548,#7cd250 194px,#75d054 264px,#7cd250 299px,#81d34d 313px,#7ad151 320px,#73d056 355px,#67cc5c 389px,#67cc5c 395px,#75d054 396px,#6ccd5a 435px,#70cf57 509px,#7cd250 510px,#70cf57 543px,#73d056 622px,#81d34d 623px,#73d056 660px,#75d054 736px,#81d34d 737px,#7ad151 770px,#7fd34e 802px,#84d44b 908px,#73d056 1019px)"></i><i style="top:29px;background:linear-gradient(90deg,#86d549,#7cd250 190px,#75d054 265px,#7cd250 301px,#7fd34e 311px,#75d054 319px,#70cf57 346px,#60ca60 386px,#63cb5f 395px,#70cf57 396px,#67cc5c 432px,#69cd5b 509px,#77d153 510px,#70cf57 530px,#6ccd5a 554px,#6ece58 622px,#7cd250 623px,#6ece58 656px,#6ece58 736px,#7cd250 737px,#75d054 772px,#7ad151 814px,#7fd34e 907px,#73d056 991px,#6ece58 1019px)"></i><i style="top:30px;background:linear-gradient(90deg,#86d549,#7ad151 208px,#75d054 268px,#7cd250 303px,#7fd34e 309px,#70cf57 317px,#69cd5b 350px,#5cc863 391px,#5cc863 395px,#6ccd5a 396px,#60ca60 433px,#65cb5e 509px,#73d056 510px,#6ece58 525px,#65cb5e 545px,#67cc5c 622px,#75d054 623px,#73d056 635px,#67cc5c 653px,#67cc5c 736px,#75d054 737px,#73d056 752px,#6ece58 772px,#75d054 814px,#75d054 940px,#69cd5b 1019px)"></i><i style="top:31px;background:linear-gradient(90deg,#84d44b,#7ad151 204px,#75d054 269px,#77d153 291px,#7fd34e 306px,#69cd5b 318px,#63cb5f 354px,#58c765 388px,#58c765 395px,#67cc5c 396px,#60ca60 416px,#5cc863 436px,#5ec962 509px,#6ece58 510px,#69cd5b 524px,#60ca60 542px,#60ca60 622px,#70cf57 623px,#6ccd5a 637px,#60ca60 657px,#60ca60 736px,#70cf57 737px,#67cc5c 769px,#6ece58 804px,#73d056 921px,#65cb5e 1019px)"></i><i style="top:32px;background:linear-gradient(90deg,#81d34d,#7ad151 199px,#75d054 271px,#77d153 293px,#7ad151 305px,#65cb5e 318px,#60ca60 345px,#52c569 392px,#52c569 395px,#63cb5f 396px,#5ec962 411px,#56c667 431px,#5ac864 509px,#69cd5b 510px,#63cb5f 526px,#5ac864 541px,#5ac864 622px,#6ccd5a 623px,#65cb5e 639px,#5ac864 657px,#5ac864 736px,#6ccd5a 737px,#63cb5f 768px,#69cd5b 818px,#6ece58 920px,#60ca60 1019px)"></i><i style="top:33px;background:linear-gradient(90deg,#81d34d,#77d153 225px,#77d153 295px,#77d153 303px,#60ca60 317px,#56c667 360px,#4cc26c 387px,#4ec36b 395px,#5ec962 396px,#58c765 414px,#50c46a 431px,#54c568 509px,#65cb5e 510px,#60ca60 522px,#54c568 544px,#56c667 622px,#67cc5c 623px,#60ca60 637px,#56c667 655px,#54c568 736px,#65cb5e 737px,#63cb5f 750px,#5cc863 767px,#63cb5f 805px,#69cd5b 918px,#5cc863 1019px)"></i><i style="top:34px;background:linear-gradient(90deg,#7fd34e,#77d153 215px,#73d056 283px,#7ad151 299px,#5ac864 317px,#52c569 356px,#48c16e 390px,#48c16e 395px,#5ac864 396px,#50c46a 418px,#4ac16d 431px,#4ec36b 509px,#60ca60 510px,#54c568 531px,#4ec36b 549px,#50c46a 622px,#63cb5f 623px,#4ec36b 658px,#4ec36b 736px,#60ca60 737px,#56c667 771px,#5ec962 816px,#65cb5e 914px,#58c765 1019px)"></i><i style="top:35px;background:linear-gradient(90deg,#7fd34e,#77d153 206px,#73d056 285px,#75d054 299px,#5ac864 313px,#54c568 327px,#42be71 390px,#42be71 395px,#56c667 396px,#4cc26c 415px,#44bf70 432px,#48c16e 509px,#5cc863 510px,#48c16e 544px,#4ac16d 622px,#5ec962 623px,#48c16e 659px,#46c06f 736px,#5ac864 737px,#50c46a 771px,#58c765 809px,#5ec962 921px,#54c568 1019px)"></i><i style="top:36px;background:linear-gradient(90deg,#7fd34e,#77d153 197px,#73d056 287px,#73d056 297px,#56c667 312px,#50c46a 322px,#3dbc74 392px,#3dbc74 395px,#52c569 396px,#3fbc73 430px,#42be71 509px,#56c667 510px,#4ec36b 525px,#42be71 543px,#44bf70 622px,#58c765 623px,#50c46a 638px,#42be71 658px,#40bd72 736px,#56c667 737px,#4ac16d 770px,#52c569 805px,#5ac864 926px,#50c46a 1019px)"></i><i style="top:37px;background:linear-gradient(90deg,#7cd250,#75d054 218px,#73d056 294px,#52c569 311px,#4ac16d 322px,#38b977 394px,#38b977 395px,#4cc26c 396px,#46c06f 410px,#3aba76 429px,#3dbc74 509px,#52c569 510px,#48c16e 526px,#3dbc74 543px,#3fbc73 622px,#54c568 623px,#4ac16d 639px,#3fbc73 653px,#3bbb75 736px,#50c46a 737px,#4ac16d 754px,#44bf70 770px,#4cc26c 803px,#56c667 921px,#4ec36b 1019px)"></i><i style="top:38px;background:linear-gradient(90deg,#7cd250,#73d056 240px,#70cf57 283px,#73d056 291px,#56c667 305px,#46c06f 318px,#34b679 393px,#34b679 395px,#48c16e 396px,#42be71 409px,#35b779 431px,#38b977 509px,#4ec36b 510px,#3dbc74 533px,#38b977 553px,#3aba76 622px,#50c46a 623px,#46c06f 638px,#3aba76 654px,#37b878 736px,#4cc26c 737px,#3fbc73 768px,#48c16e 817px,#52c569 915px,#4ac16d 1019px)"></i><i style="top:39px;background:linear-gradient(90deg,#7ad151,#73d056 231px,#70cf57 284px,#70cf57 290px,#4cc26c 308px,#40bd72 320px,#2fb47c 395px,#44bf70 396px,#3aba76 414px,#31b57b 432px,#34b679 509px,#48c16e 510px,#42be71 522px,#34b679 543px,#35b779 622px,#4cc26c 623px,#42be71 637px,#35b779 655px,#32b67a 736px,#46c06f 737px,#3fbc73 756px,#3bbb75 772px,#44bf70 828px,#4cc26c 916px,#46c06f 1019px)"></i><i style="top:40px;background:linear-gradient(90deg,#7ad151,#73d056 221px,#73d056 285px,#70cf57 289px,#67cc5c 291px,#44bf70 310px,#3bbb75 323px,#2cb17e 395px,#3fbc73 396px,#3aba76 410px,#2eb37c 428px,#2fb47c 509px,#44bf70 510px,#3aba76 527px,#2fb47c 544px,#31b57b 622px,#46c06f 623px,#44bf70 632px,#31b57b 654px,#2db27d 736px,#42be71 737px,#3aba76 757px,#35b779 769px,#3dbc74 807px,#48c16e 923px,#42be71 1019px)"></i><i style="top:41px;background:linear-gradient(90deg,#77d153,#73d056 212px,#6ece58 282px,#73d056 288px,#65cb5e 290px,#4ac16d 303px,#38b977 319px,#29af7f 394px,#29af7f 395px,#3bbb75 396px,#3aba76 407px,#2ab07f 428px,#2cb17e 509px,#40bd72 510px,#3bbb75 522px,#2db27d 540px,#2db27d 622px,#42be71 623px,#40bd72 632px,#2db27d 655px,#29af7f 736px,#3fbc73 737px,#3aba76 752px,#32b67a 768px,#3bbb75 834px,#44bf70 927px,#3fbc73 1019px)"></i><i style="top:42px;background:linear-gradient(90deg,#77d153,#73d056 198px,#6ece58 278px,#70cf57 283px,#73d056 287px,#5ec962 290px,#3bbb75 310px,#32b67a 328px,#26ad81 395px,#38b977 396px,#37b878 408px,#27ad81 427px,#28ae80 509px,#3dbc74 510px,#3aba76 521px,#29af7f 541px,#29af7f 622px,#3fbc73 623px,#3bbb75 635px,#29af7f 654px,#26ad81 736px,#3bbb75 737px,#37b878 752px,#2eb37c 768px,#3bbb75 867px,#3fbc73 935px,#3bbb75 1019px)"></i><i style="top:43px;background:linear-gradient(90deg,#75d054,#70cf57 210px,#6ccd5a 282px,#73d056 285px,#70cf57 287px,#58c765 290px,#34b679 313px,#2db27d 337px,#24aa83 395px,#35b779 396px,#35b779 407px,#25ab82 427px,#25ac82 509px,#3bbb75 510px,#34b679 525px,#26ad81 540px,#26ad81 622px,#3aba76 623px,#3aba76 634px,#26ad81 654px,#24aa83 736px,#38b977 737px,#34b679 752px,#2ab07f 770px,#35b779 844px,#3bbb75 917px,#38b977 1019px)"></i><i style="top:44px;background:linear-gradient(90deg,#75d054,#70cf57 191px,#69cd5b 282px,#73d056 283px,#73d056 286px,#58c765 289px,#38b977 307px,#2db27d 319px,#22a785 395px,#31b57b 396px,#37b878 400px,#2cb17e 414px,#22a884 431px,#23a983 509px,#38b977 510px,#34b679 523px,#24aa83 540px,#24aa83 622px,#35b779 623px,#3aba76 625px,#34b679 637px,#24aa83 653px,#21a685 736px,#35b779 737px,#34b679 749px,#27ad81 768px,#38b977 909px,#35b779 1019px)"></i><i style="top:45px;background:linear-gradient(90deg,#73d056,#6ccd5a 235px,#67cc5c 282px,#73d056 283px,#73d056 285px,#5cc863 288px,#4ec36b 290px,#2cb17e 314px,#20a486 390px,#20a486 395px,#2eb37c 396px,#34b679 400px,#28ae80 416px,#21a585 432px,#21a585 509px,#35b779 510px,#34b679 521px,#22a884 539px,#21a685 622px,#32b67a 623px,#38b977 626px,#2eb37c 639px,#21a685 656px,#20a386 736px,#32b67a 737px,#31b57b 750px,#25ab82 768px,#35b779 925px,#34b679 1019px)"></i><i style="top:46px;background:linear-gradient(90deg,#73d056,#6ccd5a 216px,#65cb5e 282px,#73d056 283px,#70cf57 285px,#48c16e 290px,#27ad81 316px,#1fa187 395px,#2ab07f 396px,#31b57b 397px,#2cb17e 411px,#20a486 426px,#1fa287 509px,#32b67a 510px,#31b57b 521px,#21a685 538px,#20a386 622px,#2eb37c 623px,#34b679 625px,#31b57b 635px,#20a486 653px,#1fa188 736px,#2fb47c 737px,#2eb37c 750px,#22a884 770px,#32b67a 917px,#32b67a 1019px)"></i><i style="top:47px;background:linear-gradient(90deg,#73d056,#6ccd5a 197px,#63cb5f 282px,#70cf57 283px,#6ccd5a 285px,#46c06f 289px,#3fbc73 293px,#25ac82 316px,#1f9f88 395px,#28ae80 396px,#2eb37c 398px,#28ae80 412px,#1fa188 428px,#1fa088 509px,#2fb47c 510px,#2eb37c 521px,#1fa287 539px,#1fa188 622px,#2ab07f 623px,#31b57b 624px,#2cb17e 637px,#1fa187 653px,#1f9e89 736px,#2cb17e 737px,#2cb17e 750px,#21a685 768px,#2fb47c 936px,#31b57b 1019px)"></i><i style="top:48px;background:linear-gradient(90deg,#70cf57,#69cd5b 210px,#63cb5f 274px,#60ca60 282px,#6ece58 283px,#65cb5e 285px,#3fbc73 289px,#23a983 315px,#1e9c89 395px,#26ad81 396px,#2cb17e 400px,#22a785 416px,#1e9d89 434px,#1e9d89 509px,#2db27d 510px,#29af7f 522px,#1f9f88 540px,#1f9e89 622px,#28ae80 623px,#2eb37c 626px,#22a785 644px,#1e9d89 660px,#1f9a8a 736px,#29af7f 737px,#26ad81 753px,#20a386 771px,#2db27d 921px,#2fb47c 1019px)"></i><i style="top:49px;background:linear-gradient(90deg,#70cf57,#67cc5c 222px,#63cb5f 268px,#5cc863 282px,#6ccd5a 283px,#38b977 289px,#22a785 314px,#1f998a 395px,#24aa83 396px,#28ae80 400px,#22a785 414px,#1f9a8a 431px,#1f9a8a 509px,#29af7f 510px,#22a884 527px,#1e9b8a 544px,#1e9b8a 622px,#25ac82 623px,#29af7f 627px,#21a685 642px,#1f9a8a 659px,#1f978b 736px,#26ad81 737px,#23a983 753px,#1fa188 769px,#2ab07f 912px,#2fb47c 1019px)"></i><i style="top:50px;background:linear-gradient(90deg,#6ece58,#65cb5e 234px,#60ca60 269px,#5ac864 282px,#67cc5c 283px,#32b67a 289px,#2db27d 294px,#1f9f88 318px,#1f978b 395px,#21a685 396px,#25ac82 398px,#20a486 413px,#1f948c 433px,#1f978b 509px,#26ad81 510px,#21a585 526px,#1f948c 547px,#1f978b 622px,#22a785 623px,#26ad81 625px,#20a386 641px,#20938c 661px,#1f948c 736px,#24aa83 737px,#20a486 755px,#1f9e89 773px,#26ad81 890px,#2db27d 967px,#2fb47c 1019px)"></i><i style="top:51px;background:linear-gradient(90deg,#6ccd5a,#63cb5f 238px,#5ac864 271px,#54c568 282px,#5ec962 283px,#2fb47c 288px,#26ad81 291px,#21a585 299px,#1f948c 313px,#1f948c 395px,#1fa188 396px,#22a785 398px,#1f9f88 411px,#20928c 418px,#228b8d 435px,#1f948c 509px,#22a884 510px,#1fa287 523px,#20928c 532px,#228c8d 548px,#1f948c 622px,#22a884 624px,#1fa188 637px,#20928c 645px,#228b8d 660px,#20928c 736px,#21a585 737px,#1fa188 753px,#1f978b 771px,#23a983 873px,#2db27d 956px,#31b57b 1019px)"></i><i style="top:52px;background:linear-gradient(90deg,#69cd5b,#63cb5f 216px,#5ac864 265px,#4ec36b 282px,#2e6f8e 283px,#2b758e 298px,#24878e 316px,#20928c 371px,#1f958b 395px,#1e9d89 396px,#3a548c 397px,#33638d 412px,#277e8e 420px,#20928c 491px,#1f948c 509px,#3a548c 510px,#34608d 524px,#287d8e 533px,#21908d 594px,#1f948c 622px,#1e9b8a 623px,#3a548c 624px,#34618d 638px,#277e8e 647px,#21918c 717px,#20938c 736px,#365c8d 737px,#2c718e 756px,#26828e 772px,#1f978b 807px,#24aa83 881px,#2eb37c 957px,#32b67a 1019px)"></i><i style="top:53px;background:linear-gradient(90deg,#67cc5c,#63cb5f 198px,#5ac864 259px,#46c06f 282px,#2e6e8e 283px,#2a788e 310px,#24878e 333px,#1f978b 395px,#1f9a8a 396px,#3a548c 397px,#34618d 414px,#2b758e 419px,#23898e 459px,#1f958b 509px,#3a538b 510px,#34608d 527px,#2b758e 533px,#24868e 564px,#1f958b 622px,#1f988b 623px,#3a548c 624px,#355e8d 640px,#2b758e 646px,#23898e 685px,#1f958b 736px,#3a548c 737px,#34608d 754px,#2d708e 761px,#1f978b 813px,#24aa83 882px,#2fb47c 955px,#34b679 1019px)"></i><i style="top:54px;background:linear-gradient(90deg,#67cc5c,#60ca60 204px,#58c765 257px,#46c06f 276px,#40bd72 282px,#2f6c8e 283px,#2a778e 313px,#218e8d 362px,#1f988b 396px,#3b528b 397px,#355f8d 414px,#2b748e 420px,#218f8d 481px,#1f958b 509px,#3b528b 510px,#355e8d 527px,#2b748e 533px,#218e8d 592px,#1f968b 623px,#3b528b 624px,#365c8d 640px,#2b748e 646px,#228d8d 702px,#1f958b 736px,#3b528b 737px,#355e8d 754px,#2e6e8e 761px,#20928c 809px,#22a884 876px,#2fb47c 951px,#34b679 1019px)"></i><i style="top:55px;background:linear-gradient(90deg,#65cb5e,#60ca60 190px,#58c765 252px,#46c06f 272px,#3bbb75 282px,#306a8e 283px,#2a788e 319px,#20928c 378px,#1f968b 396px,#3c508b 397px,#375a8c 413px,#2c728e 419px,#218e8d 481px,#1f958b 509px,#3c508b 510px,#365c8d 527px,#2c728e 533px,#228d8d 591px,#1f958b 623px,#3c508b 624px,#375a8c 640px,#2c728e 646px,#228c8d 702px,#1f958b 736px,#3c508b 737px,#365c8d 754px,#2e6d8e 761px,#20928c 811px,#21a685 871px,#2fb47c 950px,#35b779 1019px)"></i><i style="top:56px;background:linear-gradient(90deg,#63cb5f,#5ec962 196px,#56c667 252px,#44bf70 270px,#37b878 282px,#31688e 283px,#2b758e 318px,#23898e 358px,#1f958b 396px,#3d4e8a 397px,#38588c 413px,#2c718e 419px,#228c8d 478px,#1f948c 509px,#3d4e8a 510px,#375a8c 527px,#2c718e 533px,#228c8d 592px,#1f948c 623px,#3d4e8a 624px,#38588c 640px,#2c718e 646px,#228c8d 705px,#1f948c 736px,#3d4e8a 737px,#375a8c 754px,#2f6b8e 760px,#21908d 810px,#21a685 875px,#2fb47c 950px,#35b779 1019px)"></i><i style="top:57px;background:linear-gradient(90deg,#60ca60,#5cc863 201px,#54c568 252px,#42be71 269px,#32b67a 282px,#31668e 283px,#2c728e 316px,#23888e 360px,#1f948c 396px,#3d4d8a 397px,#39558c 413px,#2d718e 420px,#228c8d 482px,#20938c 509px,#3d4d8a 510px,#39558c 526px,#2d718e 533px,#228c8d 595px,#20938c 623px,#3d4d8a 624px,#39558c 640px,#2d708e 646px,#228b8d 705px,#20938c 736px,#3d4d8a 737px,#38588c 754px,#30698e 760px,#228c8d 806px,#20a486 872px,#2eb37c 947px,#35b779 1019px)"></i><i style="top:58px;background:linear-gradient(90deg,#5ec962,#5cc863 189px,#52c569 252px,#3aba76 272px,#2eb37c 282px,#32648e 283px,#2e6f8e 314px,#23888e 364px,#20928c 396px,#3e4a89 397px,#39568c 414px,#2e6f8e 419px,#228b8d 482px,#20928c 509px,#3e4a89 510px,#39558c 527px,#2e6f8e 533px,#238a8d 592px,#20928c 623px,#3e4a89 624px,#3a538b 640px,#2e6f8e 646px,#23898e 702px,#20928c 736px,#3e4a89 737px,#39558c 754px,#31688e 760px,#24878e 801px,#1f958b 830px,#23a983 895px,#2eb37c 951px,#34b679 1019px)"></i><i style="top:59px;background:linear-gradient(90deg,#5cc863,#5ac864 192px,#50c46a 252px,#34b679 274px,#2cb17e 282px,#33628d 283px,#2f6c8e 313px,#24868e 363px,#20928c 396px,#3f4889 397px,#3b518b 413px,#2e6e8e 419px,#238a8d 481px,#20928c 509px,#3f4889 510px,#3b518b 526px,#2e6e8e 533px,#23898e 591px,#20928c 623px,#3f4889 624px,#3b518b 640px,#2e6e8e 646px,#238a8d 708px,#20928c 736px,#3f4889 737px,#3a538b 754px,#31678e 760px,#228c8d 810px,#20a486 881px,#2db27d 952px,#34b679 1019px)"></i><i style="top:60px;background:linear-gradient(90deg,#5ac864,#58c765 194px,#4ec36b 252px,#31b57b 275px,#29af7f 282px,#34608d 283px,#306a8e 314px,#26828e 358px,#21918c 396px,#3f4788 397px,#3c4f8a 413px,#2f6c8e 419px,#24878e 475px,#21918c 509px,#3f4788 510px,#3c4f8a 526px,#2e6d8e 533px,#23888e 591px,#21918c 623px,#3f4788 624px,#3d4e8a 638px,#3a548c 641px,#2f6c8e 646px,#24878e 702px,#21918c 736px,#3f4788 737px,#3c4f8a 753px,#32658e 760px,#25858e 802px,#20928c 829px,#22a884 901px,#2db27d 968px,#32b67a 1019px)"></i><i style="top:61px;background:linear-gradient(90deg,#58c765,#56c667 195px,#4cc26c 252px,#34b679 272px,#28ae80 282px,#365d8d 283px,#31678e 313px,#26828e 359px,#218f8d 396px,#414487 397px,#3d4d8a 413px,#2f6b8e 419px,#25858e 473px,#218f8d 509px,#414487 510px,#3e4c8a 526px,#2f6b8e 533px,#24868e 589px,#218f8d 623px,#414487 624px,#3d4d8a 640px,#2f6b8e 646px,#24868e 702px,#218f8d 736px,#414487 737px,#3d4d8a 753px,#32648e 760px,#25838e 801px,#20928c 832px,#22a884 906px,#2db27d 982px,#31b57b 1019px)"></i><i style="top:62px;background:linear-gradient(90deg,#56c667,#54c568 197px,#4ac16d 252px,#34b679 271px,#27ad81 282px,#375b8d 283px,#32648e 313px,#287d8e 352px,#228d8d 396px,#424186 397px,#3e4989 413px,#306a8e 419px,#25848e 474px,#218e8d 509px,#424186 510px,#3e4989 526px,#306a8e 533px,#25848e 587px,#218e8d 623px,#424186 624px,#3e4a89 640px,#306a8e 646px,#25848e 700px,#218e8d 736px,#424186 737px,#3e4989 753px,#33638d 760px,#23888e 810px,#1fa287 889px,#27ad81 941px,#31b57b 1019px)"></i><i style="top:63px;background:linear-gradient(90deg,#54c568,#52c569 198px,#48c16e 253px,#29af7f 278px,#26ad81 282px,#38598c 283px,#34618d 312px,#287c8e 353px,#228c8d 396px,#423f85 397px,#3f4788 413px,#31688e 419px,#26828e 472px,#228d8d 509px,#423f85 510px,#3f4788 526px,#375b8d 530px,#30698e 533px,#25838e 588px,#228d8d 623px,#423f85 624px,#404688 638px,#3f4788 640px,#31688e 646px,#25838e 701px,#228d8d 736px,#423f85 737px,#3f4788 753px,#33628d 760px,#228b8d 817px,#20a486 901px,#27ad81 949px,#2fb47c 1019px)"></i><i style="top:64px;background:linear-gradient(90deg,#52c569,#50c46a 199px,#48c16e 250px,#34b679 269px,#25ac82 282px,#39558c 283px,#355f8d 313px,#297a8e 352px,#238a8d 396px,#443b84 397px,#414487 412px,#3c4f8a 415px,#31678e 419px,#26828e 475px,#228b8d 509px,#443b84 510px,#414487 526px,#31678e 533px,#26828e 588px,#228b8d 623px,#443b84 624px,#414287 637px,#3e4a89 641px,#31678e 646px,#26828e 702px,#228b8d 736px,#443b84 737px,#414487 752px,#3d4d8a 755px,#34618d 760px,#26828e 805px,#1e9c89 872px,#26ad81 952px,#2eb37c 1019px)"></i><i style="top:65px;background:linear-gradient(90deg,#52c569,#50c46a 185px,#46c06f 251px,#2cb17e 274px,#25ab82 282px,#3a538b 283px,#375a8c 310px,#2a768e 347px,#23888e 396px,#443983 397px,#424186 413px,#31668e 419px,#26828e 478px,#238a8d 509px,#443983 510px,#424186 526px,#31668e 533px,#26828e 591px,#238a8d 623px,#443983 624px,#414287 640px,#31668e 646px,#26828e 704px,#238a8d 736px,#443983 737px,#424186 753px,#355f8d 759px,#25848e 810px,#1fa188 894px,#26ad81 970px,#2cb17e 1019px)"></i><i style="top:66px;background:linear-gradient(90deg,#50c46a,#4ec36b 187px,#44bf70 251px,#2fb47c 271px,#24aa83 282px,#3b518b 283px,#39568c 309px,#2b748e 346px,#24878e 396px,#453781 397px,#423f85 413px,#32648e 419px,#26818e 478px,#23898e 509px,#453781 510px,#423f85 526px,#3f4889 528px,#32658e 533px,#26818e 592px,#23898e 623px,#453781 624px,#423f85 640px,#32648e 646px,#26818e 705px,#23898e 736px,#453781 737px,#423f85 753px,#355e8d 759px,#26828e 809px,#1f9f88 891px,#25ac82 971px,#2ab07f 1019px)"></i><i style="top:67px;background:linear-gradient(90deg,#4ec36b,#4cc26c 188px,#42be71 251px,#2db27d 272px,#24aa83 282px,#3d4e8a 283px,#39558c 312px,#2c718e 344px,#25858e 396px,#46337f 397px,#443b84 412px,#3f4889 415px,#33638d 419px,#27808e 479px,#24878e 509px,#46337f 510px,#443b84 526px,#34618d 532px,#277f8e 589px,#24878e 623px,#46337f 624px,#443b84 639px,#3e4a89 642px,#33638d 646px,#27808e 706px,#24878e 736px,#46337f 737px,#443b84 752px,#404688 755px,#365d8d 759px,#26828e 811px,#1f9f88 896px,#25ac82 981px,#29af7f 1019px)"></i><i style="top:68px;background:linear-gradient(90deg,#4cc26c,#4ac16d 185px,#3fbc73 253px,#2cb17e 272px,#23a983 282px,#3e4c8a 283px,#3b528b 311px,#2d718e 345px,#25838e 396px,#46307e 397px,#453781 409px,#443a83 413px,#33628d 419px,#277e8e 477px,#24868e 509px,#46307e 510px,#443983 526px,#33628d 533px,#277f8e 593px,#24868e 623px,#46307e 624px,#453781 636px,#443a83 640px,#33628d 646px,#277e8e 704px,#24868e 736px,#46307e 737px,#443983 753px,#365c8d 759px,#26828e 813px,#1f9f88 902px,#27ad81 1007px,#28ae80 1019px)"></i><i style="top:69px;background:linear-gradient(90deg,#48c16e,#46c06f 197px,#3dbc74 253px,#25ab82 277px,#22a884 282px,#3e4989 283px,#3c4f8a 309px,#2d708e 345px,#26828e 396px,#472f7d 397px,#453781 411px,#453882 413px,#34618d 419px,#287d8e 477px,#25858e 509px,#472f7d 510px,#453581 523px,#443b84 527px,#355f8d 532px,#287c8e 586px,#25858e 623px,#472f7d 624px,#453581 636px,#443983 640px,#34618d 646px,#287d8e 703px,#25858e 736px,#472f7d 737px,#453781 751px,#433d84 754px,#375b8d 759px,#26828e 816px,#1f9f88 907px,#27ad81 1019px)"></i><i style="top:70px;background:linear-gradient(90deg,#46c06f,#44bf70 194px,#3aba76 255px,#22a785 281px,#22a785 282px,#3f4788 283px,#3e4c8a 307px,#2e6f8e 346px,#26828e 396px,#472e7c 397px,#453581 411px,#453781 413px,#34608d 419px,#287c8e 476px,#25848e 509px,#472e7c 510px,#453581 525px,#443983 527px,#355e8d 532px,#297b8e 585px,#25848e 623px,#472e7c 624px,#453581 638px,#453781 640px,#34608d 646px,#287c8e 703px,#25848e 736px,#472e7c 737px,#453581 751px,#443b84 754px,#375b8d 759px,#26828e 819px,#1f9e89 911px,#25ac82 1019px)"></i><i style="top:71px;background:linear-gradient(90deg,#44bf70,#42be71 191px,#37b878 257px,#21a685 281px,#21a685 282px,#404588 283px,#3e4a89 308px,#2e6e8e 346px,#26818e 396px,#472d7b 397px,#453581 413px,#355f8d 419px,#297b8e 476px,#26828e 509px,#472d7b 510px,#453581 526px,#3f4788 529px,#365d8d 532px,#29798e 582px,#25838e 623px,#472d7b 624px,#453581 640px,#34608d 646px,#297b8e 703px,#25838e 736px,#472d7b 737px,#453581 753px,#375a8c 759px,#26828e 822px,#1f9f88 918px,#25ab82 1019px)"></i><i style="top:72px;background:linear-gradient(90deg,#42be71,#3fbc73 203px,#37b878 254px,#21a685 280px,#21a585 282px,#414287 283px,#3f4889 308px,#2e6d8e 346px,#27808e 396px,#472c7a 397px,#463480 413px,#355f8d 419px,#297a8e 475px,#26828e 509px,#472c7a 510px,#463480 526px,#404688 529px,#365c8d 532px,#2a788e 581px,#26828e 623px,#472c7a 624px,#46337f 638px,#463480 640px,#375a8c 645px,#34608d 648px,#297a8e 702px,#26828e 736px,#472c7a 737px,#463480 753px,#38598c 759px,#27808e 820px,#1f9e89 920px,#23a983 1019px)"></i><i style="top:73px;background:linear-gradient(90deg,#40bd72,#3dbc74 200px,#34b679 256px,#20a486 282px,#424186 283px,#414287 303px,#2f6c8e 346px,#277f8e 396px,#482979 397px,#46307e 410px,#46337f 413px,#355e8d 419px,#29798e 474px,#26818e 509px,#482979 510px,#46327e 525px,#453581 527px,#365c8d 532px,#2a788e 584px,#26818e 623px,#482979 624px,#46337f 640px,#38598c 645px,#355f8d 648px,#29798e 701px,#26818e 736px,#482979 737px,#46327e 752px,#433e85 755px,#38588c 759px,#277e8e 819px,#1f9f88 929px,#22a884 1019px)"></i><i style="top:74px;background:linear-gradient(90deg,#3dbc74,#3aba76 212px,#32b67a 256px,#20a386 282px,#423f85 283px,#433d84 292px,#3f4788 311px,#306a8e 344px,#277e8e 396px,#482878 397px,#46307e 412px,#423f85 415px,#365d8d 419px,#2a788e 474px,#27808e 509px,#482878 510px,#46307e 525px,#463480 527px,#375b8d 532px,#2a778e 583px,#27808e 623px,#482878 624px,#46307e 639px,#443983 641px,#365d8d 646px,#2a788e 700px,#27808e 736px,#482878 737px,#46307e 752px,#453581 754px,#39568c 759px,#297b8e 815px,#1f9a8a 918px,#21a685 1019px)"></i><i style="top:75px;background:linear-gradient(90deg,#3bbb75,#38b977 209px,#31b57b 255px,#1fa287 282px,#433e85 283px,#433e85 298px,#3e4a89 315px,#30698e 344px,#287d8e 396px,#482979 397px,#46307e 412px,#423f85 415px,#365d8d 419px,#2a778e 474px,#277f8e 509px,#482979 510px,#46307e 525px,#463480 527px,#375a8c 532px,#2a768e 582px,#277f8e 623px,#482979 624px,#46307e 639px,#443983 641px,#365d8d 646px,#2a778e 701px,#277f8e 736px,#482979 737px,#46307e 752px,#453581 754px,#39568c 759px,#297a8e 816px,#1e9b8a 927px,#21a585 1019px)"></i><i style="top:76px;background:linear-gradient(90deg,#38b977,#35b779 212px,#2db27d 259px,#1fa187 282px,#423f85 283px,#424186 303px,#306a8e 346px,#287c8e 396px,#472c7a 397px,#463480 413px,#365c8d 419px,#2a768e 473px,#277e8e 509px,#472c7a 510px,#463480 526px,#404588 529px,#375a8c 532px,#2b758e 582px,#277e8e 623px,#472c7a 624px,#463480 640px,#365c8d 646px,#2b758e 697px,#277e8e 736px,#472c7a 737px,#463480 753px,#38588c 759px,#287c8e 824px,#1e9b8a 937px,#20a386 1019px)"></i><i style="top:77px;background:linear-gradient(90deg,#35b779,#32b67a 207px,#2ab07f 259px,#1fa188 282px,#424086 283px,#414287 302px,#306a8e 346px,#287c8e 396px,#472e7c 397px,#453581 412px,#414287 415px,#365c8d 419px,#2b758e 473px,#287d8e 509px,#472e7c 510px,#453581 525px,#443983 527px,#365c8d 533px,#2b758e 587px,#287d8e 623px,#472e7c 624px,#453581 638px,#453781 640px,#365c8d 646px,#2b758e 700px,#287d8e 736px,#472e7c 737px,#453581 752px,#424086 755px,#38588c 759px,#29798e 819px,#1f998a 935px,#1fa287 1019px)"></i><i style="top:78px;background:linear-gradient(90deg,#31b57b,#2eb37c 221px,#28ae80 260px,#1fa088 282px,#424186 283px,#414287 298px,#38588c 324px,#306a8e 347px,#297b8e 396px,#46307e 397px,#453581 409px,#443983 413px,#375b8d 419px,#2c738e 470px,#287c8e 509px,#46307e 510px,#453581 522px,#443b84 527px,#38598c 532px,#2c728e 579px,#287c8e 623px,#46307e 624px,#453581 636px,#443983 640px,#375b8d 646px,#2c738e 697px,#287c8e 736px,#46307e 737px,#453581 749px,#433d84 754px,#38598c 759px,#297a8e 825px,#1f988b 939px,#1fa188 1019px)"></i><i style="top:79px;background:linear-gradient(90deg,#2eb37c,#2cb17e 217px,#24aa83 266px,#1f9f88 282px,#414287 283px,#414287 295px,#38598c 325px,#306a8e 347px,#297b8e 396px,#46337f 397px,#443b84 413px,#375b8d 419px,#2c728e 470px,#297b8e 509px,#46337f 510px,#443b84 526px,#375b8d 533px,#2c728e 583px,#297b8e 623px,#46337f 624px,#443a83 638px,#443b84 640px,#375b8d 646px,#2c728e 697px,#297b8e 736px,#46337f 737px,#443b84 753px,#38598c 759px,#2a778e 819px,#1f978b 941px,#1fa088 1019px)"></i><i style="top:80px;background:linear-gradient(90deg,#2cb17e,#29af7f 212px,#23a983 265px,#1e9d89 282px,#3f4788 283px,#3f4788 297px,#33628d 333px,#2c728e 370px,#297a8e 396px,#443983 397px,#424186 413px,#365c8d 419px,#2c728e 472px,#297a8e 509px,#443983 510px,#424186 526px,#365c8d 533px,#2c728e 585px,#297a8e 623px,#443983 624px,#424186 640px,#365c8d 646px,#2c728e 698px,#297a8e 736px,#443983 737px,#424186 753px,#365c8d 760px,#29798e 828px,#1f958b 941px,#1f9e89 1019px)"></i><i style="top:81px;background:linear-gradient(90deg,#28ae80,#24aa83 259px,#1e9c89 282px,#3c508b 283px,#3b528b 304px,#2f6c8e 348px,#297a8e 396px,#3f4889 397px,#3c508b 414px,#34618d 420px,#2c738e 475px,#297a8e 509px,#3f4889 510px,#3c4f8a 527px,#34618d 533px,#2b748e 592px,#297a8e 623px,#3f4889 624px,#3d4e8a 640px,#34618d 647px,#2c738e 702px,#297a8e 736px,#3f4889 737px,#3c508b 754px,#34618d 760px,#24878e 882px,#20938c 943px,#1f9a8a 1019px)"></i><i style="top:82px;background:linear-gradient(90deg,#26ad81,#23a983 255px,#1e9b8a 282px,#38598c 283px,#38598c 301px,#2d708e 358px,#29798e 396px,#39568c 397px,#375b8d 414px,#31668e 421px,#2a788e 502px,#29798e 509px,#39568c 510px,#375b8d 527px,#31668e 534px,#2a788e 615px,#29798e 623px,#39568c 624px,#365c8d 641px,#31668e 648px,#2a788e 729px,#29798e 736px,#39568c 737px,#375b8d 754px,#31668e 761px,#20928c 940px,#1f968b 1019px)"></i><i style="top:83px;background:linear-gradient(90deg,#24aa83,#21a685 260px,#1f9a8a 282px,#33628d 283px,#33628d 310px,#2c718e 363px,#2a788e 396px,#33638d 397px,#30698e 418px,#2a788e 509px,#33638d 510px,#30698e 531px,#2a788e 623px,#33638d 624px,#30698e 644px,#2a788e 736px,#33638d 737px,#30698e 758px,#277e8e 855px,#21908d 943px,#20938c 1019px)"></i></div>
<div class="fld" style="left:70px;top:413px;width:1022px;height:85px"><i style="top:0px;background:linear-gradient(90deg,#52c569,#54c568 264px,#69cd5b 352px,#7cd250 705px,#86d549 841px,#8ed645 1021px)"></i><i style="top:1px;background:linear-gradient(90deg,#54c568,#54c568 268px,#69cd5b 350px,#7cd250 695px,#86d549 831px,#8ed645 1013px,#8ed645 1021px)"></i><i style="top:2px;background:linear-gradient(90deg,#54c568,#54c568 272px,#69cd5b 349px,#7cd250 685px,#86d549 821px,#8ed645 979px,#90d743 1021px)"></i><i style="top:3px;background:linear-gradient(90deg,#54c568,#52c569 263px,#60ca60 318px,#69cd5b 346px,#77d153 598px,#8bd646 886px,#90d743 1021px)"></i><i style="top:4px;background:linear-gradient(90deg,#54c568,#52c569 267px,#69cd5b 347px,#75d054 537px,#8bd646 878px,#93d741 1021px)"></i><i style="top:5px;background:linear-gradient(90deg,#54c568,#52c569 271px,#6ccd5a 354px,#7cd250 655px,#89d548 829px,#93d741 1021px)"></i><i style="top:6px;background:linear-gradient(90deg,#54c568,#52c569 275px,#6ccd5a 349px,#81d34d 712px,#8bd646 846px,#95d840 1021px)"></i><i style="top:7px;background:linear-gradient(90deg,#54c568,#50c46a 240px,#52c569 279px,#6ccd5a 347px,#81d34d 702px,#8bd646 836px,#95d840 1021px)"></i><i style="top:8px;background:linear-gradient(90deg,#56c667,#50c46a 231px,#50c46a 270px,#60ca60 318px,#6ccd5a 346px,#81d34d 692px,#8bd646 826px,#98d83e 1021px)"></i><i style="top:9px;background:linear-gradient(90deg,#58c765,#54c568 200px,#50c46a 260px,#5ac864 299px,#6ece58 347px,#7cd250 566px,#90d743 859px,#98d83e 1021px)"></i><i style="top:10px;background:linear-gradient(90deg,#5ec962,#58c765 197px,#54c568 259px,#5cc863 297px,#70cf57 344px,#7cd250 494px,#93d741 837px,#9bd93c 1021px)"></i><i style="top:11px;background:linear-gradient(90deg,#65cb5e,#5ac864 215px,#56c667 260px,#60ca60 300px,#75d054 347px,#81d34d 509px,#98d83e 847px,#9bd93c 1021px)"></i><i style="top:12px;background:linear-gradient(90deg,#6ccd5a,#60ca60 194px,#5ac864 255px,#60ca60 292px,#77d153 345px,#84d44b 481px,#98d83e 771px,#9dd93b 893px,#9dd93b 942px,#9dd93b 1021px)"></i><i style="top:13px;background:linear-gradient(90deg,#73d056,#63cb5f 208px,#5cc863 259px,#63cb5f 290px,#7ad151 345px,#89d548 490px,#98d83e 711px,#a0da39 819px,#a0da39 1021px)"></i><i style="top:14px;background:linear-gradient(90deg,#7ad151,#6ccd5a 178px,#5ec962 253px,#69cd5b 298px,#7fd34e 348px,#8ed645 504px,#98d83e 651px,#a5db36 825px,#a5db36 961px,#a0da39 1021px)"></i><i style="top:15px;background:linear-gradient(90deg,#7fd34e,#70cf57 179px,#63cb5f 259px,#69cd5b 290px,#81d34d 345px,#90d743 475px,#a5db36 758px,#aadc32 843px,#a8db34 964px,#a2da37 1021px)"></i><i style="top:16px;background:linear-gradient(90deg,#86d549,#73d056 190px,#65cb5e 253px,#6ece58 292px,#84d44b 344px,#95d840 480px,#addc30 805px,#addc30 939px,#a2da37 1021px)"></i><i style="top:17px;background:linear-gradient(90deg,#8ed645,#7ad151 178px,#69cd5b 255px,#70cf57 290px,#89d548 347px,#98d83e 473px,#b2dd2d 807px,#b0dd2f 941px,#a8db34 1002px,#a5db36 1021px)"></i><i style="top:18px;background:linear-gradient(90deg,#8ed645,#7ad151 185px,#69cd5b 252px,#73d056 292px,#89d548 345px,#9bd93c 484px,#b2dd2d 811px,#b0dd2f 932px,#a8db34 985px,#a2da37 1021px)"></i><i style="top:19px;background:linear-gradient(90deg,#8ed645,#7cd250 181px,#6ccd5a 255px,#73d056 289px,#8bd646 345px,#9bd93c 474px,#aadc32 696px,#b2dd2d 802px,#b0dd2f 924px,#a8db34 974px,#a0da39 1021px)"></i><i style="top:20px;background:linear-gradient(90deg,#8ed645,#7fd34e 176px,#6ece58 250px,#75d054 291px,#8bd646 342px,#9bd93c 463px,#aadc32 685px,#b2dd2d 810px,#addc30 934px,#9dd93b 1021px)"></i><i style="top:21px;background:linear-gradient(90deg,#90d743,#7fd34e 183px,#73d056 233px,#6ece58 255px,#7ad151 299px,#8ed645 346px,#98d83e 440px,#a2da37 568px,#aadc32 701px,#b0dd2f 781px,#addc30 925px,#9bd93c 1021px)"></i><i style="top:22px;background:linear-gradient(90deg,#90d743,#81d34d 179px,#70cf57 255px,#77d153 290px,#90d743 346px,#90d743 384px,#90d743 397px,#98d83e 483px,#9dd93b 553px,#a5db36 668px,#addc30 831px,#aadc32 925px,#98d83e 1021px)"></i><i style="top:23px;background:linear-gradient(90deg,#90d743,#81d34d 185px,#70cf57 252px,#7ad151 292px,#90d743 343px,#90d743 374px,#8bd646 394px,#8bd646 397px,#90d743 399px,#98d83e 510px,#98d83e 533px,#9dd93b 624px,#a2da37 626px,#a2da37 735px,#a8db34 741px,#a8db34 925px,#a0da39 965px,#95d840 1021px)"></i><i style="top:24px;background:linear-gradient(90deg,#90d743,#84d44b 181px,#73d056 252px,#7ad151 289px,#93d741 346px,#8ed645 371px,#86d549 388px,#89d548 397px,#8ed645 399px,#8ed645 452px,#93d741 510px,#98d83e 512px,#98d83e 599px,#9bd93c 624px,#a0da39 626px,#9bd93c 674px,#a0da39 737px,#a5db36 739px,#a5db36 794px,#a8db34 911px,#a0da39 951px,#90d743 1021px)"></i><i style="top:25px;background:linear-gradient(90deg,#90d743,#86d549 177px,#75d054 250px,#7cd250 291px,#93d741 343px,#84d44b 391px,#84d44b 397px,#8bd646 398px,#8bd646 477px,#8ed645 510px,#95d840 511px,#90d743 564px,#95d840 624px,#9bd93c 626px,#98d83e 652px,#98d83e 665px,#9bd93c 737px,#a0da39 739px,#a5db36 911px,#8ed645 1021px)"></i><i style="top:26px;background:linear-gradient(90deg,#90d743,#86d549 176px,#75d054 253px,#7cd250 291px,#90d743 337px,#7fd34e 390px,#7fd34e 397px,#86d549 398px,#86d549 488px,#89d548 510px,#90d743 511px,#8bd646 563px,#8ed645 624px,#98d83e 625px,#90d743 663px,#93d741 737px,#9bd93c 738px,#9bd93c 787px,#a0da39 917px,#8ed645 1007px,#8bd646 1021px)"></i><i style="top:27px;background:linear-gradient(90deg,#8ed645,#84d44b 181px,#75d054 253px,#7cd250 293px,#8bd646 328px,#84d44b 357px,#77d153 390px,#77d153 397px,#81d34d 398px,#7cd250 442px,#81d34d 510px,#8bd646 511px,#84d44b 553px,#89d548 624px,#90d743 625px,#8ed645 642px,#89d548 664px,#8bd646 737px,#95d840 738px,#90d743 767px,#98d83e 815px,#98d83e 930px,#86d549 1021px)"></i><i style="top:28px;background:linear-gradient(90deg,#8ed645,#81d34d 187px,#75d054 255px,#7ad151 289px,#86d549 317px,#81d34d 346px,#70cf57 392px,#73d056 397px,#7cd250 398px,#75d054 436px,#7ad151 508px,#7ad151 510px,#86d549 511px,#7cd250 549px,#81d34d 624px,#8bd646 625px,#84d44b 651px,#84d44b 704px,#84d44b 737px,#8ed645 738px,#8ed645 789px,#95d840 916px,#81d34d 1021px)"></i><i style="top:29px;background:linear-gradient(90deg,#8bd646,#81d34d 181px,#75d054 256px,#7ad151 291px,#84d44b 315px,#7fd34e 320px,#7ad151 348px,#69cd5b 386px,#6ccd5a 397px,#77d153 398px,#70cf57 433px,#75d054 510px,#81d34d 511px,#75d054 548px,#7ad151 624px,#86d549 625px,#7ad151 662px,#7cd250 737px,#89d548 738px,#84d44b 775px,#8bd646 813px,#8ed645 924px,#7cd250 1021px)"></i><i style="top:30px;background:linear-gradient(90deg,#8bd646,#7fd34e 189px,#75d054 255px,#7ad151 293px,#81d34d 313px,#77d153 320px,#73d056 350px,#65cb5e 388px,#65cb5e 397px,#73d056 398px,#69cd5b 432px,#6ece58 510px,#7cd250 511px,#6ece58 548px,#73d056 624px,#81d34d 625px,#73d056 660px,#75d054 737px,#81d34d 738px,#81d34d 752px,#7cd250 772px,#84d44b 805px,#89d548 915px,#7ad151 1021px)"></i><i style="top:31px;background:linear-gradient(90deg,#89d548,#7cd250 198px,#75d054 264px,#7ad151 296px,#7fd34e 311px,#73d056 319px,#67cc5c 363px,#5ec962 392px,#5ec962 397px,#6ece58 398px,#63cb5f 432px,#67cc5c 510px,#75d054 511px,#73d056 523px,#69cd5b 541px,#6ccd5a 624px,#7ad151 625px,#75d054 640px,#6ccd5a 658px,#6ece58 737px,#7cd250 738px,#75d054 771px,#7cd250 802px,#86d549 913px,#75d054 1021px)"></i><i style="top:32px;background:linear-gradient(90deg,#86d549,#7cd250 190px,#75d054 267px,#77d153 291px,#7fd34e 308px,#6ccd5a 318px,#63cb5f 358px,#58c765 393px,#5ac864 397px,#69cd5b 398px,#5cc863 433px,#60ca60 510px,#70cf57 511px,#6ccd5a 525px,#63cb5f 543px,#65cb5e 624px,#75d054 625px,#6ccd5a 644px,#65cb5e 661px,#65cb5e 737px,#75d054 738px,#73d056 756px,#6ece58 769px,#77d153 808px,#7fd34e 915px,#70cf57 1021px)"></i><i style="top:33px;background:linear-gradient(90deg,#86d549,#7ad151 204px,#75d054 271px,#77d153 294px,#7cd250 306px,#65cb5e 319px,#60ca60 347px,#52c569 391px,#54c568 397px,#65cb5e 398px,#56c667 434px,#5ac864 510px,#6ccd5a 511px,#60ca60 533px,#5cc863 553px,#5ec962 624px,#70cf57 625px,#63cb5f 648px,#5ec962 663px,#5ec962 737px,#70cf57 738px,#69cd5b 773px,#70cf57 806px,#7ad151 913px,#6ccd5a 1021px)"></i><i style="top:34px;background:linear-gradient(90deg,#84d44b,#75d054 282px,#7ad151 305px,#60ca60 318px,#4ec36b 385px,#4ec36b 397px,#5ec962 398px,#58c765 415px,#50c46a 432px,#54c568 510px,#67cc5c 511px,#56c667 545px,#58c765 624px,#69cd5b 625px,#63cb5f 640px,#58c765 658px,#58c765 737px,#69cd5b 738px,#69cd5b 749px,#63cb5f 769px,#6ccd5a 814px,#75d054 919px,#67cc5c 1021px)"></i><i style="top:35px;background:linear-gradient(90deg,#84d44b,#73d056 284px,#7ad151 302px,#5ac864 318px,#4cc26c 373px,#48c16e 390px,#48c16e 397px,#5ac864 398px,#4ec36b 422px,#4ac16d 434px,#4ec36b 510px,#60ca60 511px,#58c765 528px,#50c46a 545px,#52c569 624px,#65cb5e 625px,#52c569 657px,#50c46a 737px,#65cb5e 738px,#5ac864 770px,#65cb5e 806px,#70cf57 917px,#63cb5f 1021px)"></i><i style="top:36px;background:linear-gradient(90deg,#81d34d,#77d153 206px,#73d056 286px,#75d054 301px,#54c568 318px,#4ac16d 361px,#42be71 389px,#42be71 397px,#56c667 398px,#44bf70 432px,#48c16e 510px,#5cc863 511px,#4ac16d 543px,#4cc26c 624px,#5ec962 625px,#54c568 643px,#4ac16d 661px,#4ac16d 737px,#5ec962 738px,#54c568 772px,#5ec962 810px,#69cd5b 922px,#5ec962 1021px)"></i><i style="top:37px;background:linear-gradient(90deg,#7fd34e,#77d153 197px,#73d056 289px,#73d056 299px,#54c568 314px,#4ec36b 322px,#3dbc74 393px,#3dbc74 397px,#50c46a 398px,#4ac16d 412px,#3fbc73 429px,#42be71 510px,#56c667 511px,#4ec36b 527px,#42be71 545px,#46c06f 624px,#5ac864 625px,#4ec36b 643px,#44bf70 661px,#42be71 737px,#58c765 738px,#4ec36b 772px,#58c765 812px,#65cb5e 916px,#5ac864 1021px)"></i><i style="top:38px;background:linear-gradient(90deg,#7fd34e,#73d056 291px,#73d056 296px,#50c46a 313px,#48c16e 322px,#38b977 394px,#38b977 397px,#4cc26c 398px,#42be71 415px,#3aba76 431px,#3dbc74 510px,#52c569 511px,#48c16e 527px,#3dbc74 544px,#3fbc73 624px,#56c667 625px,#3fbc73 656px,#3dbc74 737px,#52c569 738px,#4ac16d 760px,#4ac16d 780px,#52c569 812px,#5ec962 924px,#56c667 1021px)"></i><i style="top:39px;background:linear-gradient(90deg,#7cd250,#75d054 209px,#70cf57 285px,#70cf57 295px,#56c667 307px,#44bf70 319px,#34b679 393px,#34b679 397px,#48c16e 398px,#35b779 431px,#38b977 510px,#4cc26c 511px,#46c06f 524px,#38b977 543px,#3aba76 624px,#50c46a 625px,#46c06f 640px,#3aba76 656px,#37b878 737px,#4cc26c 738px,#46c06f 756px,#40bd72 770px,#4ac16d 802px,#5ac864 914px,#50c46a 1021px)"></i><i style="top:40px;background:linear-gradient(90deg,#7ad151,#73d056 231px,#70cf57 286px,#70cf57 292px,#40bd72 316px,#2fb47c 394px,#2fb47c 397px,#44bf70 398px,#31b57b 430px,#32b67a 510px,#48c16e 511px,#3fbc73 527px,#34b679 543px,#35b779 624px,#4cc26c 625px,#3dbc74 644px,#34b679 660px,#32b67a 737px,#46c06f 738px,#44bf70 750px,#3bbb75 771px,#46c06f 811px,#54c568 923px,#4cc26c 1021px)"></i><i style="top:41px;background:linear-gradient(90deg,#7ad151,#73d056 222px,#70cf57 287px,#73d056 290px,#67cc5c 293px,#3dbc74 315px,#2cb17e 392px,#2cb17e 397px,#40bd72 398px,#34b679 417px,#2db27d 433px,#2eb37c 510px,#42be71 511px,#3fbc73 522px,#2fb47c 544px,#31b57b 624px,#48c16e 625px,#2fb47c 659px,#2db27d 737px,#40bd72 738px,#3fbc73 751px,#37b878 769px,#40bd72 814px,#50c46a 913px,#48c16e 1021px)"></i><i style="top:42px;background:linear-gradient(90deg,#77d153,#73d056 212px,#6ece58 284px,#73d056 289px,#65cb5e 292px,#40bd72 310px,#35b779 322px,#28ae80 397px,#3dbc74 398px,#31b57b 417px,#29af7f 433px,#2ab07f 510px,#3fbc73 511px,#3aba76 524px,#2cb17e 542px,#2db27d 624px,#42be71 625px,#3aba76 639px,#2cb17e 656px,#29af7f 737px,#3bbb75 738px,#3aba76 752px,#32b67a 771px,#3bbb75 812px,#4ac16d 923px,#44bf70 1021px)"></i><i style="top:43px;background:linear-gradient(90deg,#77d153,#73d056 198px,#6ece58 278px,#70cf57 285px,#70cf57 289px,#60ca60 291px,#38b977 313px,#31b57b 322px,#25ac82 397px,#3aba76 398px,#2eb37c 416px,#26ad81 435px,#27ad81 510px,#3aba76 511px,#3aba76 519px,#28ae80 543px,#29af7f 624px,#3fbc73 625px,#37b878 639px,#28ae80 657px,#25ac82 737px,#38b977 738px,#37b878 752px,#2eb37c 770px,#3bbb75 841px,#46c06f 917px,#40bd72 1021px)"></i><i style="top:44px;background:linear-gradient(90deg,#75d054,#70cf57 210px,#6ccd5a 279px,#6ece58 284px,#73d056 286px,#73d056 288px,#5cc863 291px,#2fb47c 316px,#23a983 397px,#37b878 398px,#2db27d 415px,#24aa83 431px,#25ab82 510px,#37b878 511px,#37b878 521px,#25ac82 542px,#25ac82 624px,#3bbb75 625px,#34b679 639px,#25ac82 655px,#23a983 737px,#34b679 738px,#34b679 752px,#2ab07f 772px,#35b779 829px,#40bd72 915px,#3dbc74 1021px)"></i><i style="top:45px;background:linear-gradient(90deg,#75d054,#70cf57 192px,#6ccd5a 284px,#73d056 285px,#75d054 287px,#67cc5c 289px,#56c667 291px,#2eb37c 314px,#27ad81 338px,#21a685 397px,#34b679 398px,#2fb47c 410px,#22a785 430px,#22a884 510px,#32b67a 511px,#37b878 513px,#31b57b 525px,#23a983 542px,#23a983 624px,#38b977 625px,#31b57b 639px,#23a983 656px,#21a585 737px,#2fb47c 738px,#34b679 740px,#31b57b 753px,#27ad81 770px,#38b977 878px,#3dbc74 933px,#3aba76 1021px)"></i><i style="top:46px;background:linear-gradient(90deg,#73d056,#6ccd5a 235px,#69cd5b 283px,#75d054 285px,#73d056 287px,#52c569 291px,#2db27d 313px,#26ad81 324px,#20a386 397px,#31b57b 398px,#2db27d 411px,#20a486 430px,#21a585 510px,#2fb47c 511px,#35b779 514px,#27ad81 532px,#21a585 550px,#21a685 624px,#35b779 625px,#31b57b 637px,#22a785 653px,#1fa287 737px,#2db27d 738px,#32b67a 743px,#29af7f 759px,#25ac82 777px,#3aba76 918px,#37b878 1021px)"></i><i style="top:47px;background:linear-gradient(90deg,#73d056,#6ccd5a 216px,#69cd5b 264px,#67cc5c 283px,#75d054 285px,#75d054 286px,#52c569 290px,#2db27d 310px,#24aa83 322px,#1fa188 397px,#2fb47c 398px,#2ab07f 412px,#1fa287 429px,#1fa187 510px,#2cb17e 511px,#32b67a 514px,#28ae80 529px,#1fa287 547px,#1fa287 624px,#32b67a 625px,#31b57b 635px,#20a486 653px,#1fa088 737px,#29af7f 738px,#2fb47c 741px,#29af7f 756px,#23a983 776px,#37b878 921px,#35b779 1021px)"></i><i style="top:48px;background:linear-gradient(90deg,#73d056,#6ccd5a 198px,#67cc5c 278px,#67cc5c 283px,#75d054 285px,#73d056 286px,#4ec36b 290px,#44bf70 293px,#25ac82 314px,#1fa187 361px,#1f9e89 397px,#2db27d 398px,#28ae80 412px,#1f9f88 430px,#1f9f88 510px,#29af7f 511px,#2fb47c 514px,#28ae80 527px,#1fa088 545px,#1fa088 624px,#2fb47c 625px,#2cb17e 637px,#1fa187 653px,#1e9c89 737px,#26ad81 738px,#2cb17e 740px,#29af7f 753px,#21a685 773px,#2fb47c 889px,#34b679 1021px)"></i><i style="top:49px;background:linear-gradient(90deg,#70cf57,#69cd5b 210px,#65cb5e 283px,#73d056 285px,#46c06f 290px,#25ab82 312px,#20a386 330px,#1e9b8a 397px,#29af7f 398px,#26ad81 411px,#1e9c89 431px,#1e9c89 510px,#26ad81 511px,#2cb17e 513px,#27ad81 525px,#1f9e89 542px,#1e9d89 624px,#2cb17e 625px,#28ae80 637px,#1e9d89 657px,#1f998a 737px,#25ab82 738px,#2ab07f 747px,#20a386 771px,#29af7f 867px,#31b57b 973px,#32b67a 1021px)"></i><i style="top:50px;background:linear-gradient(90deg,#70cf57,#67cc5c 222px,#63cb5f 283px,#6ece58 285px,#40bd72 290px,#38b977 294px,#21a685 314px,#1f988b 383px,#1f988b 397px,#27ad81 398px,#23a983 412px,#1f998a 432px,#1f998a 510px,#25ab82 511px,#29af7f 517px,#1fa088 535px,#1f998a 553px,#1f998a 624px,#28ae80 625px,#23a983 640px,#1f998a 659px,#1f968b 737px,#22a884 738px,#27ad81 743px,#20a486 761px,#20a486 787px,#2fb47c 972px,#32b67a 1021px)"></i><i style="top:51px;background:linear-gradient(90deg,#6ece58,#65cb5e 234px,#63cb5f 273px,#5ec962 283px,#67cc5c 284px,#67cc5c 285px,#38b977 290px,#1fa287 315px,#1f978b 373px,#1f958b 397px,#25ab82 398px,#21a585 413px,#1f968b 432px,#1f968b 510px,#22a884 511px,#26ad81 516px,#1f998a 540px,#1f958b 571px,#1f968b 624px,#25ac82 625px,#21a685 639px,#1f958b 660px,#20938c 737px,#21a585 738px,#24aa83 743px,#1f9e89 773px,#27ad81 893px,#31b57b 1021px)"></i><i style="top:52px;background:linear-gradient(90deg,#6ccd5a,#63cb5f 239px,#5cc863 274px,#58c765 283px,#60ca60 284px,#52c569 286px,#2fb47c 290px,#25ab82 300px,#1f988b 316px,#20938c 351px,#20938c 397px,#21a685 398px,#1e9d89 416px,#218f8d 430px,#20938c 510px,#1fa287 511px,#22a785 513px,#1f9e89 529px,#218f8d 544px,#20938c 624px,#22a785 625px,#1fa088 641px,#218f8d 656px,#20928c 737px,#1fa088 738px,#21a585 740px,#1f9e89 760px,#1e9b8a 778px,#28ae80 918px,#32b67a 1021px)"></i><i style="top:53px;background:linear-gradient(90deg,#6ccd5a,#63cb5f 217px,#5ac864 269px,#50c46a 283px,#58c765 284px,#25ab82 285px,#1f988b 291px,#238a8d 318px,#20938c 397px,#24868e 431px,#20928c 499px,#20928c 510px,#1e9d89 511px,#21918c 512px,#228d8d 525px,#24878e 546px,#20928c 618px,#218e8d 637px,#24868e 659px,#20928c 735px,#20928c 737px,#1e9c89 738px,#1f958b 740px,#228d8d 771px,#1f9f88 823px,#2ab07f 940px,#32b67a 1021px)"></i><i style="top:54px;background:linear-gradient(90deg,#69cd5b,#63cb5f 199px,#58c765 266px,#4ac16d 283px,#54c568 284px,#31688e 285px,#2b748e 305px,#26828e 322px,#1f968b 390px,#1f968b 397px,#32648e 398px,#25838e 436px,#20928c 490px,#1f948c 510px,#1f9a8a 511px,#32648e 512px,#26828e 548px,#21918c 598px,#1f948c 624px,#33638d 625px,#26828e 661px,#21918c 712px,#1f948c 737px,#1f9a8a 738px,#375a8c 739px,#34608d 749px,#218e8d 792px,#1e9b8a 818px,#29af7f 935px,#34b679 1021px)"></i><i style="top:55px;background:linear-gradient(90deg,#67cc5c,#63cb5f 184px,#58c765 260px,#42be71 283px,#4ec36b 284px,#32658e 285px,#21918c 367px,#1f988b 397px,#34618d 398px,#25858e 448px,#20928c 491px,#1f988b 511px,#34618d 512px,#25858e 561px,#20928c 606px,#1f968b 624px,#34618d 625px,#25858e 675px,#20928c 719px,#1f978b 738px,#38588c 739px,#355e8d 749px,#1f958b 808px,#21a685 883px,#31b57b 994px,#34b679 1021px)"></i><i style="top:56px;background:linear-gradient(90deg,#65cb5e,#60ca60 191px,#58c765 254px,#46c06f 274px,#3dbc74 283px,#48c16e 284px,#33628d 285px,#20928c 374px,#1f988b 397px,#355e8d 398px,#25848e 451px,#20928c 493px,#1f968b 511px,#355e8d 512px,#25858e 566px,#1f948c 618px,#1f958b 624px,#355e8d 625px,#25848e 678px,#20928c 720px,#1f968b 738px,#39568c 739px,#365c8d 749px,#20938c 810px,#20a386 875px,#2fb47c 982px,#34b679 1021px)"></i><i style="top:57px;background:linear-gradient(90deg,#65cb5e,#5ec962 197px,#56c667 253px,#48c16e 269px,#38b977 283px,#42be71 284px,#355f8d 285px,#20928c 377px,#1f968b 397px,#375b8d 398px,#25838e 453px,#20928c 501px,#1f948c 511px,#365c8d 512px,#26828e 565px,#20928c 613px,#1f948c 624px,#375b8d 625px,#26828e 679px,#21908d 718px,#1f948c 738px,#39558c 739px,#375b8d 749px,#20928c 811px,#20a486 888px,#2fb47c 982px,#34b679 1021px)"></i><i style="top:58px;background:linear-gradient(90deg,#63cb5f,#5cc863 202px,#54c568 253px,#42be71 270px,#32b67a 283px,#3fbc73 284px,#365c8d 285px,#277e8e 342px,#1f948c 391px,#1f958b 397px,#38598c 398px,#26828e 456px,#20928c 509px,#20928c 511px,#38598c 512px,#26828e 569px,#20928c 624px,#38598c 625px,#26828e 683px,#20928c 736px,#20928c 738px,#3a538b 739px,#38598c 749px,#218f8d 810px,#1fa187 878px,#2ab07f 949px,#34b679 1021px)"></i><i style="top:59px;background:linear-gradient(90deg,#60ca60,#5cc863 190px,#52c569 253px,#3dbc74 271px,#2eb37c 283px,#3aba76 284px,#38598c 285px,#2a788e 337px,#21908d 381px,#20938c 397px,#39558c 398px,#26828e 459px,#20928c 511px,#39558c 512px,#29798e 557px,#238a8d 596px,#21918c 624px,#39558c 625px,#26828e 686px,#20928c 738px,#3b528b 739px,#38598c 751px,#228d8d 811px,#1fa188 883px,#2ab07f 952px,#34b679 1021px)"></i><i style="top:60px;background:linear-gradient(90deg,#5ec962,#5ac864 194px,#50c46a 253px,#3aba76 271px,#2cb17e 283px,#37b878 284px,#39558c 285px,#31668e 315px,#25848e 359px,#20928c 397px,#3b528b 398px,#355e8d 416px,#26828e 461px,#21908d 511px,#3b528b 512px,#31678e 540px,#26828e 576px,#21908d 624px,#3b528b 625px,#355e8d 643px,#26818e 687px,#21908d 738px,#3b518b 739px,#38598c 753px,#228b8d 811px,#1fa188 889px,#2db27d 978px,#32b67a 1021px)"></i><i style="top:61px;background:linear-gradient(90deg,#5ec962,#58c765 197px,#4ec36b 253px,#34b679 274px,#29af7f 283px,#35b779 284px,#3b528b 285px,#33638d 315px,#26828e 359px,#21918c 397px,#3c4f8a 398px,#355f8d 422px,#277f8e 460px,#218e8d 511px,#3c4f8a 512px,#365d8d 533px,#287c8e 569px,#228d8d 619px,#218e8d 624px,#3c4f8a 625px,#355f8d 649px,#277f8e 687px,#218e8d 738px,#3c4f8a 739px,#38598c 756px,#23898e 812px,#1f9f88 885px,#2ab07f 968px,#32b67a 1021px)"></i><i style="top:62px;background:linear-gradient(90deg,#5cc863,#58c765 186px,#4cc26c 253px,#34b679 273px,#28ae80 283px,#34b679 284px,#3c4f8a 285px,#34608d 316px,#26828e 362px,#218f8d 397px,#3e4c8a 398px,#39558c 416px,#297a8e 457px,#238a8d 501px,#228c8d 511px,#3e4c8a 512px,#38598c 534px,#2b758e 564px,#26828e 588px,#228c8d 624px,#3e4c8a 625px,#39558c 643px,#297a8e 684px,#23898e 725px,#228c8d 738px,#3d4e8a 739px,#365c8d 764px,#24868e 810px,#1e9b8a 874px,#26ad81 949px,#31b57b 1021px)"></i><i style="top:63px;background:linear-gradient(90deg,#5ac864,#56c667 189px,#4ac16d 253px,#34b679 272px,#27ad81 283px,#34b679 284px,#3e4c8a 285px,#375a8c 312px,#27808e 362px,#228d8d 397px,#3f4889 398px,#3e4c8a 409px,#34618d 433px,#277e8e 467px,#238a8d 511px,#3f4889 512px,#3e4c8a 523px,#34608d 545px,#277e8e 581px,#238a8d 624px,#3f4889 625px,#3e4c8a 636px,#34618d 660px,#277e8e 695px,#238a8d 738px,#3e4c8a 739px,#34608d 775px,#25838e 808px,#1f988b 865px,#23a983 939px,#2fb47c 1021px)"></i><i style="top:64px;background:linear-gradient(90deg,#58c765,#54c568 191px,#48c16e 254px,#29af7f 279px,#26ad81 283px,#32b67a 284px,#3f4889 285px,#39568c 313px,#277e8e 363px,#228b8d 397px,#414487 398px,#3c508b 422px,#2a768e 460px,#23888e 510px,#23888e 511px,#414487 512px,#3c4f8a 534px,#297a8e 578px,#23888e 624px,#414487 625px,#3c508b 649px,#2a768e 687px,#23888e 737px,#23888e 738px,#3e4a89 739px,#375b8d 774px,#26828e 810px,#1f978b 864px,#23a983 944px,#2fb47c 1021px)"></i><i style="top:65px;background:linear-gradient(90deg,#58c765,#52c569 194px,#46c06f 254px,#31b57b 272px,#25ac82 283px,#31b57b 284px,#404588 285px,#3a548c 315px,#29798e 359px,#23898e 397px,#424086 398px,#404588 413px,#29798e 468px,#24868e 511px,#424086 512px,#3f4889 533px,#2b748e 575px,#24868e 624px,#424086 625px,#404588 640px,#29798e 695px,#24868e 738px,#3e4989 739px,#39568c 774px,#27808e 810px,#1f958b 860px,#23a983 949px,#2eb37c 1021px)"></i><i style="top:66px;background:linear-gradient(90deg,#56c667,#52c569 184px,#46c06f 252px,#31b57b 272px,#25ab82 283px,#2fb47c 284px,#424186 285px,#3c4f8a 313px,#2a768e 358px,#24878e 397px,#433d84 398px,#433d84 408px,#3e4c8a 427px,#2a778e 469px,#25848e 511px,#433d84 512px,#433d84 521px,#3e4a89 539px,#2a768e 581px,#25848e 624px,#433d84 625px,#433d84 635px,#3e4c8a 654px,#2a778e 697px,#25848e 738px,#3f4788 739px,#3b528b 774px,#287d8e 808px,#1f948c 860px,#22a884 950px,#2db27d 1021px)"></i><i style="top:67px;background:linear-gradient(90deg,#54c568,#50c46a 187px,#44bf70 252px,#2eb37c 273px,#25ab82 283px,#2eb37c 284px,#433e85 285px,#3e4989 311px,#2c738e 357px,#25848e 395px,#25858e 397px,#453882 398px,#433d84 417px,#2f6c8e 459px,#29798e 481px,#26828e 511px,#453882 512px,#443b84 528px,#39568c 553px,#2b758e 584px,#26828e 624px,#453882 625px,#433d84 644px,#2f6c8e 686px,#29798e 708px,#26828e 738px,#404688 739px,#3d4d8a 773px,#297b8e 808px,#20938c 859px,#21a685 948px,#2ab07f 1021px)"></i><i style="top:68px;background:linear-gradient(90deg,#52c569,#4ec36b 189px,#42be71 252px,#2cb17e 274px,#24aa83 283px,#2db27d 284px,#443a83 285px,#414487 309px,#2c718e 358px,#26828e 393px,#25838e 397px,#463480 398px,#453581 413px,#3e4a89 434px,#2c718e 468px,#26818e 511px,#463480 512px,#453581 527px,#3f4889 546px,#2c718e 581px,#26818e 624px,#463480 625px,#453581 640px,#3e4a89 661px,#2c718e 695px,#26818e 738px,#404588 739px,#3e4a89 774px,#2a788e 808px,#20928c 858px,#21a685 953px,#29af7f 1021px)"></i><i style="top:69px;background:linear-gradient(90deg,#50c46a,#4cc26c 187px,#3fbc73 254px,#2ab07f 274px,#23a983 283px,#2cb17e 284px,#453781 285px,#424086 310px,#2d718e 360px,#26828e 397px,#46307e 398px,#46327e 416px,#423f85 429px,#2e6e8e 465px,#277f8e 511px,#46307e 512px,#46307e 526px,#443b84 539px,#2e6e8e 579px,#277f8e 624px,#46307e 625px,#46327e 643px,#423f85 656px,#2e6e8e 692px,#277f8e 738px,#414287 739px,#414487 773px,#2a768e 808px,#20928c 860px,#21a685 961px,#28ae80 1021px)"></i><i style="top:70px;background:linear-gradient(90deg,#4ec36b,#4ac16d 184px,#3dbc74 254px,#22a884 283px,#2ab07f 284px,#463480 285px,#443b84 308px,#2e6d8e 356px,#27808e 396px,#27808e 397px,#472e7c 398px,#46307e 419px,#365c8d 452px,#2e6f8e 469px,#277e8e 511px,#472e7c 512px,#46307e 533px,#38598c 563px,#2d708e 584px,#277e8e 624px,#472e7c 625px,#46307e 646px,#365c8d 679px,#2e6f8e 696px,#277e8e 738px,#424086 739px,#424186 774px,#2d708e 803px,#21908d 857px,#21a685 971px,#27ad81 1021px)"></i><i style="top:71px;background:linear-gradient(90deg,#4cc26c,#48c16e 182px,#3bbb75 253px,#27ad81 275px,#22a785 283px,#29af7f 284px,#46307e 285px,#443a83 310px,#306a8e 354px,#277f8e 397px,#472c7a 398px,#472c7a 412px,#453581 425px,#34618d 457px,#2d708e 473px,#287d8e 511px,#472c7a 512px,#472c7a 526px,#453581 538px,#33628d 571px,#2e6f8e 585px,#287d8e 624px,#472c7a 625px,#472c7a 639px,#453581 652px,#34618d 684px,#2d708e 700px,#287d8e 738px,#433d84 739px,#443b84 773px,#2f6b8e 801px,#287c8e 821px,#21908d 861px,#21a685 981px,#25ac82 1021px)"></i><i style="top:72px;background:linear-gradient(90deg,#4ac16d,#44bf70 192px,#37b878 258px,#21a685 283px,#28ae80 284px,#472e7c 285px,#453581 309px,#33628d 347px,#287c8e 391px,#287d8e 397px,#482979 398px,#482979 412px,#453581 426px,#34618d 458px,#2e6e8e 472px,#287c8e 511px,#482979 512px,#482979 525px,#46337f 538px,#38598c 565px,#2e6d8e 583px,#287c8e 624px,#482979 625px,#482979 639px,#453581 653px,#34618d 685px,#2e6e8e 699px,#287c8e 738px,#443983 739px,#453781 773px,#355e8d 794px,#2c728e 808px,#218e8d 858px,#21a685 991px,#25ab82 1021px)"></i><i style="top:73px;background:linear-gradient(90deg,#46c06f,#42be71 189px,#37b878 255px,#21a585 283px,#28ae80 284px,#472c7a 285px,#472d7b 299px,#453581 311px,#31668e 353px,#287c8e 397px,#482677 398px,#482878 415px,#453581 428px,#34618d 459px,#2e6d8e 472px,#297b8e 511px,#482677 512px,#482878 528px,#46307e 538px,#38598c 566px,#2f6c8e 583px,#297b8e 624px,#482677 625px,#482878 642px,#453581 655px,#34618d 686px,#2e6d8e 699px,#297b8e 738px,#453581 739px,#46307e 772px,#38588c 792px,#2d718e 808px,#218e8d 860px,#21a685 1001px,#23a983 1021px)"></i><i style="top:74px;background:linear-gradient(90deg,#44bf70,#3fbc73 199px,#34b679 257px,#20a486 283px,#27ad81 284px,#482878 285px,#472a7a 301px,#414287 325px,#31678e 356px,#297a8e 396px,#297a8e 397px,#482475 398px,#482475 411px,#472e7c 424px,#39568c 452px,#2f6b8e 470px,#297a8e 511px,#482475 512px,#482475 524px,#472d7b 537px,#3b518b 562px,#2f6b8e 583px,#297a8e 624px,#482475 625px,#482475 638px,#472e7c 651px,#39568c 679px,#2f6b8e 697px,#297a8e 738px,#46337f 739px,#472e7c 773px,#3a548c 792px,#2d708e 808px,#228c8d 859px,#20a486 998px,#22a884 1021px)"></i><i style="top:75px;background:linear-gradient(90deg,#42be71,#3dbc74 196px,#34b679 254px,#22a785 278px,#20a386 283px,#26ad81 284px,#482576 285px,#482878 303px,#39558c 342px,#31668e 357px,#29798e 397px,#482374 398px,#482071 407px,#482878 422px,#3e4c8a 446px,#30698e 468px,#29798e 511px,#482173 512px,#482173 524px,#472a7a 537px,#3b518b 563px,#30698e 582px,#2a788e 624px,#482374 625px,#482071 634px,#482878 649px,#3e4c8a 673px,#30698e 695px,#29798e 738px,#472f7d 739px,#482979 773px,#3c508b 791px,#2e6e8e 808px,#228b8d 859px,#20a486 1008px,#21a685 1021px)"></i><i style="top:76px;background:linear-gradient(90deg,#40bd72,#3dbc74 181px,#31b57b 257px,#1fa287 283px,#25ac82 284px,#482475 285px,#482475 298px,#46307e 313px,#365d8d 348px,#2a768e 389px,#2a788e 397px,#482173 398px,#482173 411px,#472a7a 423px,#3b528b 450px,#30698e 469px,#2a788e 511px,#482173 512px,#482173 525px,#472c7a 538px,#3d4d8a 560px,#31688e 582px,#2a788e 624px,#482173 625px,#482173 638px,#472a7a 650px,#3b518b 677px,#30698e 696px,#2a788e 738px,#472e7c 739px,#482576 772px,#3e4c8a 789px,#2e6d8e 808px,#238a8d 859px,#1fa287 1005px,#21a585 1021px)"></i><i style="top:77px;background:linear-gradient(90deg,#3dbc74,#38b977 196px,#2eb37c 258px,#1fa187 283px,#25ab82 284px,#482475 285px,#482475 295px,#46307e 311px,#365d8d 347px,#2a768e 390px,#2a778e 397px,#482374 398px,#482475 410px,#46307e 425px,#38588c 453px,#306a8e 471px,#2a778e 511px,#482374 512px,#482576 526px,#453581 542px,#34608d 573px,#2f6c8e 589px,#2a778e 624px,#482374 625px,#482475 637px,#46307e 652px,#38588c 680px,#306a8e 698px,#2a778e 738px,#472f7d 739px,#472c7a 773px,#3d4e8a 789px,#2e6f8e 809px,#23898e 859px,#1fa287 1015px,#20a386 1021px)"></i><i style="top:78px;background:linear-gradient(90deg,#38b977,#34b679 204px,#2ab07f 261px,#1fa188 283px,#24aa83 284px,#482576 285px,#482677 297px,#3e4a89 331px,#31668e 357px,#2a778e 397px,#482576 398px,#472a7a 416px,#414287 435px,#30698e 468px,#2a778e 511px,#482576 512px,#472a7a 529px,#3e4a89 555px,#306a8e 583px,#2a778e 624px,#482576 625px,#482979 641px,#453882 655px,#355f8d 685px,#2f6b8e 700px,#2a778e 738px,#46307e 739px,#46307e 773px,#39568c 793px,#2e6f8e 809px,#23898e 862px,#1fa287 1021px)"></i><i style="top:79px;background:linear-gradient(90deg,#34b679,#31b57b 199px,#28ae80 261px,#1fa088 283px,#22a884 284px,#482576 285px,#482677 295px,#3e4a89 329px,#31688e 360px,#2a768e 397px,#482878 398px,#482979 408px,#463480 423px,#38598c 451px,#2f6b8e 471px,#2a768e 511px,#482677 512px,#46307e 533px,#38588c 563px,#306a8e 583px,#2a768e 624px,#482878 625px,#482979 635px,#463480 650px,#38598c 678px,#2f6b8e 698px,#2a768e 738px,#46327e 739px,#46327e 765px,#453781 774px,#34618d 798px,#2d708e 810px,#23888e 862px,#1fa188 1021px)"></i><i style="top:80px;background:linear-gradient(90deg,#31b57b,#2cb17e 226px,#23a983 268px,#1f9f88 283px,#22a785 284px,#482677 285px,#482677 293px,#3e4a89 327px,#31678e 358px,#2a768e 397px,#482979 398px,#46337f 418px,#38588c 448px,#2f6b8e 471px,#2a768e 511px,#482979 512px,#46307e 528px,#375b8d 565px,#2f6b8e 585px,#2a768e 624px,#482979 625px,#46337f 645px,#38588c 675px,#2f6b8e 698px,#2a768e 738px,#46337f 739px,#46327e 753px,#443a83 774px,#31678e 801px,#2c718e 813px,#24878e 863px,#1fa088 1021px)"></i><i style="top:81px;background:linear-gradient(90deg,#2db27d,#29af7f 221px,#23a983 266px,#1e9d89 283px,#21a685 284px,#472c7a 285px,#472c7a 293px,#3b528b 331px,#30698e 360px,#2b758e 397px,#472f7d 398px,#453882 416px,#34618d 455px,#2e6d8e 476px,#2b758e 511px,#472f7d 512px,#453581 526px,#34608d 568px,#2f6c8e 586px,#2b758e 624px,#472f7d 625px,#453882 643px,#34618d 682px,#2e6d8e 703px,#2b758e 738px,#453882 739px,#453882 751px,#424086 774px,#2d708e 808px,#24868e 863px,#1f9e89 1021px)"></i><i style="top:82px;background:linear-gradient(90deg,#29af7f,#25ab82 256px,#1e9c89 283px,#21a585 284px,#433d84 285px,#433d84 293px,#30698e 355px,#2b758e 397px,#423f85 398px,#3e4a89 423px,#30698e 461px,#2b758e 511px,#423f85 512px,#3e4a89 536px,#2f6c8e 579px,#2b758e 624px,#423f85 625px,#3e4a89 650px,#30698e 688px,#2b758e 738px,#404688 739px,#3d4d8a 774px,#2d718e 809px,#25848e 861px,#1f978b 996px,#1f9a8a 1021px)"></i><i style="top:83px;background:linear-gradient(90deg,#27ad81,#23a983 257px,#1e9b8a 283px,#20a486 284px,#3d4d8a 285px,#39568c 313px,#2e6e8e 363px,#2b758e 397px,#3d4e8a 398px,#375a8c 429px,#2e6f8e 474px,#2b758e 511px,#3d4e8a 512px,#38598c 540px,#2e6f8e 587px,#2b758e 624px,#3d4e8a 625px,#375a8c 656px,#2e6f8e 701px,#2b758e 738px,#3a548c 739px,#375a8c 775px,#2c738e 813px,#25838e 863px,#20938c 983px,#1f978b 1021px)"></i><i style="top:84px;background:linear-gradient(90deg,#25ab82,#22a785 257px,#1f9a8a 283px,#1fa287 284px,#365c8d 285px,#2c718e 375px,#2b758e 397px,#365c8d 398px,#2c718e 483px,#2b758e 511px,#365c8d 512px,#2c718e 596px,#2b758e 624px,#365c8d 625px,#2c718e 710px,#2b758e 738px,#33628d 739px,#31668e 779px,#26828e 859px,#20928c 994px,#20938c 1021px)"></i></div>
<div class="cb" style="left:223.5px;top:561.0px;width:714.9px;height:12.0px;background:linear-gradient(90deg,#46075a 0.000%,#46075a 3.333%,#471365 3.333%,#471365 6.667%,#481f70 6.667%,#481f70 10.000%,#482979 10.000%,#482979 13.333%,#463480 13.333%,#463480 16.667%,#433e85 16.667%,#433e85 20.000%,#3f4889 20.000%,#3f4889 23.333%,#3b528b 23.333%,#3b528b 26.667%,#375b8d 26.667%,#375b8d 30.000%,#32648e 30.000%,#32648e 33.333%,#2f6c8e 33.333%,#2f6c8e 36.667%,#2b748e 36.667%,#2b748e 40.000%,#287c8e 40.000%,#287c8e 43.333%,#25848e 43.333%,#25848e 46.667%,#228c8d 46.667%,#228c8d 50.000%,#1f948c 50.000%,#1f948c 53.333%,#1e9c89 53.333%,#1e9c89 56.667%,#20a486 56.667%,#20a486 60.000%,#25ac82 60.000%,#25ac82 63.333%,#2fb47c 63.333%,#2fb47c 66.667%,#3bbb75 66.667%,#3bbb75 70.000%,#4cc26c 70.000%,#4cc26c 73.333%,#5ec962 73.333%,#5ec962 76.667%,#70cf57 76.667%,#70cf57 80.000%,#86d549 80.000%,#86d549 83.333%,#9bd93c 83.333%,#9bd93c 86.667%,#b2dd2d 86.667%,#b2dd2d 90.000%,#c8e020 90.000%,#c8e020 93.333%,#dfe318 93.333%,#dfe318 96.667%,#f4e61e 96.667%,#f4e61e 100.000%)"></div>
<svg width="1104" height="632" viewBox="0 0 1104 632"><g fill="none" stroke="#000" stroke-width="1.3"><rect x="71.70" y="52.50" width="1020.30" height="84.70"/><line x1="66.30" y1="52.50" x2="71.70" y2="52.50"/><line x1="66.30" y1="120.00" x2="71.70" y2="120.00"/><line x1="128.38" y1="137.20" x2="128.38" y2="142.60"/><line x1="355.12" y1="137.20" x2="355.12" y2="142.60"/><line x1="581.85" y1="137.20" x2="581.85" y2="142.60"/><line x1="808.58" y1="137.20" x2="808.58" y2="142.60"/><line x1="1035.32" y1="137.20" x2="1035.32" y2="142.60"/><rect x="71.70" y="235.60" width="1020.30" height="84.80"/><line x1="66.30" y1="235.60" x2="71.70" y2="235.60"/><line x1="66.30" y1="302.40" x2="71.70" y2="302.40"/><line x1="66.30" y1="320.40" x2="71.70" y2="320.40"/><line x1="128.38" y1="320.40" x2="128.38" y2="325.80"/><line x1="355.12" y1="320.40" x2="355.12" y2="325.80"/><line x1="581.85" y1="320.40" x2="581.85" y2="325.80"/><line x1="808.58" y1="320.40" x2="808.58" y2="325.80"/><line x1="1035.32" y1="320.40" x2="1035.32" y2="325.80"/><rect x="70.40" y="413.40" width="1021.60" height="85.10"/><line x1="65.00" y1="413.40" x2="70.40" y2="413.40"/><line x1="65.00" y1="481.00" x2="70.40" y2="481.00"/><line x1="65.00" y1="498.50" x2="70.40" y2="498.50"/><line x1="127.16" y1="498.50" x2="127.16" y2="503.90"/><line x1="354.18" y1="498.50" x2="354.18" y2="503.90"/><line x1="581.20" y1="498.50" x2="581.20" y2="503.90"/><line x1="808.22" y1="498.50" x2="808.22" y2="503.90"/><line x1="1035.24" y1="498.50" x2="1035.24" y2="503.90"/><rect x="223.50" y="561.00" width="714.90" height="12.00"/><line x1="223.50" y1="573.00" x2="223.50" y2="578.00"/><line x1="402.23" y1="573.00" x2="402.23" y2="578.00"/><line x1="580.95" y1="573.00" x2="580.95" y2="578.00"/><line x1="759.67" y1="573.00" x2="759.67" y2="578.00"/><line x1="938.40" y1="573.00" x2="938.40" y2="578.00"/></g><g font-family="'DejaVu Serif', 'Liberation Serif', serif" fill="#000"><text x="69.8" y="29.8" font-family="'Liberation Serif', serif" font-size="22.5" font-weight="bold" textLength="173.0" lengthAdjust="spacingAndGlyphs">(a) DNV - RANS</text><text x="69.8" y="213.0" font-family="'Liberation Serif', serif" font-size="22.5" font-weight="bold" textLength="165.0" lengthAdjust="spacingAndGlyphs">(b) EDF - RANS</text><text x="69.8" y="393.0" font-family="'Liberation Serif', serif" font-size="22.5" font-weight="bold" textLength="140.0" lengthAdjust="spacingAndGlyphs">(c) KUL - LES</text><text x="128.38" y="164.90" font-size="21.8" text-anchor="middle">-20D</text><text x="355.12" y="164.90" font-size="21.8" text-anchor="middle">0D</text><text x="581.85" y="164.90" font-size="21.8" text-anchor="middle">20D</text><text x="808.58" y="164.90" font-size="21.8" text-anchor="middle">40D</text><text x="1035.32" y="164.90" font-size="21.8" text-anchor="middle">60D</text><text x="581.55" y="187.80" font-size="15.5" text-anchor="middle">x/D</text><text x="60.20" y="127.90" font-size="21.8" text-anchor="end">HH</text><text transform="translate(13.40 96.05) rotate(-90)" font-size="15.5" text-anchor="middle">z/D</text><text x="128.38" y="348.10" font-size="21.8" text-anchor="middle">-20D</text><text x="355.12" y="348.10" font-size="21.8" text-anchor="middle">0D</text><text x="581.85" y="348.10" font-size="21.8" text-anchor="middle">20D</text><text x="808.58" y="348.10" font-size="21.8" text-anchor="middle">40D</text><text x="1035.32" y="348.10" font-size="21.8" text-anchor="middle">60D</text><text x="581.55" y="371.00" font-size="15.5" text-anchor="middle">x/D</text><text x="60.20" y="310.30" font-size="21.8" text-anchor="end">HH</text><text transform="translate(13.40 279.20) rotate(-90)" font-size="15.5" text-anchor="middle">z/D</text><text x="127.16" y="526.20" font-size="21.8" text-anchor="middle">-20D</text><text x="354.18" y="526.20" font-size="21.8" text-anchor="middle">0D</text><text x="581.20" y="526.20" font-size="21.8" text-anchor="middle">20D</text><text x="808.22" y="526.20" font-size="21.8" text-anchor="middle">40D</text><text x="1035.24" y="526.20" font-size="21.8" text-anchor="middle">60D</text><text x="580.90" y="549.10" font-size="15.5" text-anchor="middle">x/D</text><text x="58.90" y="488.90" font-size="21.8" text-anchor="end">HH</text><text transform="translate(13.40 457.15) rotate(-90)" font-size="15.5" text-anchor="middle">z/D</text><text x="224.00" y="600.70" font-size="21.8" text-anchor="middle">2.0</text><text x="402.73" y="600.70" font-size="21.8" text-anchor="middle">4.5</text><text x="581.45" y="600.70" font-size="21.8" text-anchor="middle">7.0</text><text x="760.17" y="600.70" font-size="21.8" text-anchor="middle">9.5</text><text x="938.90" y="600.70" font-size="21.8" text-anchor="middle">12.0</text><text x="582" y="624.4" font-size="17" text-anchor="middle"><tspan font-family="'Liberation Serif', serif" font-style="italic" font-size="18">U</tspan> [m/s]</text></g></svg>
</body></html>
